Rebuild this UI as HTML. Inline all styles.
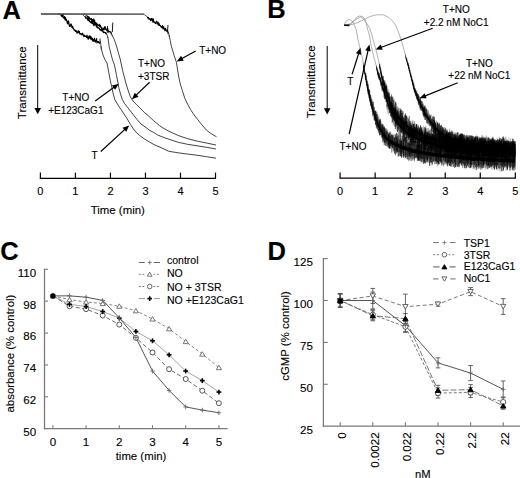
<!DOCTYPE html>
<html><head><meta charset="utf-8"><style>
html,body{margin:0;padding:0;background:#fff;}
svg{display:block;}
text{font-family:"Liberation Sans", sans-serif;stroke:#000;stroke-width:0.12px;}
</style></head><body>
<svg width="520" height="478" viewBox="0 0 520 478">
<rect width="520" height="478" fill="#fff"/>
<text x="2.4" y="19.2" font-size="25.5" text-anchor="start" font-weight="bold" fill="#000">A</text>
<text x="26.3" y="82.7" font-size="11.6" text-anchor="middle" font-weight="normal" fill="#000" transform="rotate(-90 26.3 82.7)">Transmittance</text>
<line x1="37.7" y1="45" x2="37.7" y2="109" stroke="#000" stroke-width="1"/>
<polygon points="34.4,108 41,108 37.7,114.2" fill="#000"/>
<line x1="39.8" y1="178.3" x2="216" y2="178.3" stroke="#000" stroke-width="1.3"/>
<line x1="40.4" y1="172.6" x2="40.4" y2="178.3" stroke="#000" stroke-width="1.2"/>
<text x="40.4" y="195.3" font-size="11" text-anchor="middle" font-weight="normal" fill="#000">0</text>
<line x1="75.42" y1="172.6" x2="75.42" y2="178.3" stroke="#000" stroke-width="1.2"/>
<text x="75.42" y="195.3" font-size="11" text-anchor="middle" font-weight="normal" fill="#000">1</text>
<line x1="110.44" y1="172.6" x2="110.44" y2="178.3" stroke="#000" stroke-width="1.2"/>
<text x="110.44" y="195.3" font-size="11" text-anchor="middle" font-weight="normal" fill="#000">2</text>
<line x1="145.46" y1="172.6" x2="145.46" y2="178.3" stroke="#000" stroke-width="1.2"/>
<text x="145.46" y="195.3" font-size="11" text-anchor="middle" font-weight="normal" fill="#000">3</text>
<line x1="180.48" y1="172.6" x2="180.48" y2="178.3" stroke="#000" stroke-width="1.2"/>
<text x="180.48" y="195.3" font-size="11" text-anchor="middle" font-weight="normal" fill="#000">4</text>
<line x1="215.5" y1="172.6" x2="215.5" y2="178.3" stroke="#000" stroke-width="1.2"/>
<text x="215.5" y="195.3" font-size="11" text-anchor="middle" font-weight="normal" fill="#000">5</text>
<text x="117.8" y="213.9" font-size="11.4" text-anchor="middle" font-weight="normal" fill="#000">Time (min)</text>
<polyline points="58,14 59.8,14.2 64.6,19.1 67.5,21.5 69.4,25.5 74.2,29.2 79,33 83.8,35.5 88.7,37.9 93.5,40.5 99.2,42.7 100.6,43 101.4,49.3 101.6,50.01" fill="none" stroke="#333" stroke-width="0.8" stroke-linejoin="round"/>
<polyline points="101,46.15 101.4,49.3 103,55 104.9,59.7 107,63 108.5,71 110,79 111.5,86 113.5,95 115,100 118,105 121,109.5 124,114 127,118.5 130.5,124.5 133.5,129 137,133.2 141,136.5 145,139.3 150,142.3 154,144.6 160,147.2 168.8,151.3 178.2,152.8 187.6,154.1 197,155.2 206.5,156.7 216,158.2" fill="none" stroke="#222" stroke-width="0.85" stroke-linejoin="round"/>
<polyline points="81.5,14 82.4,14.5 86.7,18.5 90,21.5 93.5,24.4 99.2,28.5 103,32 106.6,33.5 108,38" fill="none" stroke="#333" stroke-width="0.8" stroke-linejoin="round"/>
<polyline points="107.5,36.39 108,38 109.2,46.7 111,54 112.7,60.6 114.2,64 115.5,70 116.5,75.4 118,83 118.8,87.7 120.5,94 122.3,99.5 124.5,103.5 127.3,107 130,110.5 133.5,115 137,119.5 141,124 146.2,127.7 150,130.6 153.8,132.5 157.5,134.9 163,137.2 168.8,139.2 178.2,142.3 187.6,144.3 197,145.8 206.5,147.3 216,149" fill="none" stroke="#222" stroke-width="0.85" stroke-linejoin="round"/>
<polyline points="84,14 85,14.5 87.7,16.3 93.5,21.5 98.3,25.4 103,28.3 108.5,31 111,32.5 112,35 112.5,36" fill="none" stroke="#333" stroke-width="0.8" stroke-linejoin="round"/>
<polyline points="112,35 114.4,39.8 116.5,46 118,51.5 119.6,57 120.4,60 122.7,70.8 124.3,77 125.8,83 128,90 130.4,97 133,101 136.5,104.6 140,108 144.2,112.3 148,115.5 153.5,120.6 159.4,125.5 163,128 168.8,131.2 178.2,135.5 187.6,138.7 197,141.1 206.5,143 216,145" fill="none" stroke="#222" stroke-width="0.85" stroke-linejoin="round"/>
<polyline points="143,14 143.8,14.2 148,17.5 152.5,20.8 156,23.3 160.3,26 163,28 166.3,30.3 167.5,31.5 169,34.6 169.5,37.06" fill="none" stroke="#333" stroke-width="0.8" stroke-linejoin="round"/>
<polyline points="169,34.6 170.2,40.5 171.5,46.7 172.8,51 174.1,55.4 176.4,62.3 177.3,68 178.4,75 180.1,83.2 182.3,90.5 184.8,98.2 187.5,104 190.5,109.5 194,114.8 198,119.9 202,125 206.5,130.2 211,133.6 216.5,136.8" fill="none" stroke="#222" stroke-width="0.85" stroke-linejoin="round"/>
<polyline points="61,14.48 61.4,16.12 61.8,15.22 62.2,16.6 62.6,14.83 63,14.31 63.4,17.8 63.8,18.07 64.2,18.09 64.6,16.46 65,19.9 65.4,17.24 65.8,18.71 66.2,20.96 66.6,19.62 67,21.09 67.4,23.96 67.8,22.09 68.2,22.75 68.6,20.74 69,23.45 69.4,26.37 69.8,25.82 70.2,26.1 70.6,24.3 71,23.91 71.4,24.76 71.8,26.75 72.2,27.68 72.6,26.18 73,28.42 73.4,28.12 73.8,29.35 74.2,30.36 74.6,30.12 75,30.37 75.4,31.52 75.8,30.21 76.2,30.97 76.6,31.85 77,33.29 77.4,33.1 77.8,32.15 78.2,30.52 78.6,32.18 79,32.71 79.4,31.34 79.8,33.98 80.2,33.95 80.6,33.47 81,34.28 81.4,33.72 81.8,34.93 82.2,34.48 82.6,33.12 83,34.6 83.4,35.38 83.8,36.7 84.2,35.17 84.6,35.53 85,36.59 85.4,36.52 85.8,36.01 86.2,36.26 86.6,37.48 87,35.07 87.4,36.58 87.8,38.2 88.2,39.33 88.6,36.48 89,36.35 89.4,38.06 89.8,35.66 90.2,36.83 90.6,38.85 91,36.47 91.4,39.23 91.8,37.93 92.2,40.25 92.6,38.37 93,41.49 93.4,39.54 93.8,41.27 94.2,40.01 94.6,38.08 95,40.56 95.4,42.14 95.8,40.54 96.2,40.82 96.6,38.65 97,42.88 97.4,42.2 97.8,41.87 98.2,41.46 98.6,42.46 99,42.74 99.4,42.88 99.8,43.28 100.2,41.4" fill="none" stroke="#000" stroke-width="1.1" stroke-linejoin="round"/>
<polyline points="85,15.89 85.4,17.46 85.8,18.35 86.2,18.08 86.6,18.05 87,17.87 87.4,19.61 87.8,20.11 88.2,17.14 88.6,20.7 89,18.93 89.4,21.73 89.8,21.01 90.2,21.65 90.6,22.57 91,22.82 91.4,22.35 91.8,21.14 92.2,23.61 92.6,22.99 93,21.2 93.4,24.42 93.8,25.66 94.2,24.75 94.6,23.23 95,24.48 95.4,24.47 95.8,23.1 96.2,25.56 96.6,27 97,24.43 97.4,28 97.8,27.43 98.2,27.6 98.6,27.92 99,28.18 99.4,28.52 99.8,29.85 100.2,29.84 100.6,29.67 101,30.6 101.4,28.51 101.8,30.98 102.2,29.64 102.6,30.13 103,30.6 103.4,32.79 103.8,32.43 104.2,32.17 104.6,32.27 105,32.44 105.4,32.6 105.8,33.48 106.2,33.84 106.6,34.31" fill="none" stroke="#000" stroke-width="1.1" stroke-linejoin="round"/>
<polyline points="87,15.77 87.4,17.19 87.8,16.59 88.2,17.22 88.6,17.07 89,17.09 89.4,17.61 89.8,18.91 90.2,19.11 90.6,18.95 91,19.73 91.4,18.41 91.8,21.18 92.2,19.94 92.6,19.5 93,21.15 93.4,20.91 93.8,18.8 94.2,22.69 94.6,20.41 95,22.71 95.4,22.66 95.8,23.58 96.2,24.12 96.6,23.08 97,24.59 97.4,24.15 97.8,25.02 98.2,25.13 98.6,25.79 99,24.96 99.4,24.28 99.8,26.8 100.2,25.29 100.6,25.59 101,27.81 101.4,27.72 101.8,28.9 102.2,29.05 102.6,29.5 103,28.54 103.4,29.46 103.8,27.96 104.2,29.78 104.6,27.14 105,26.63 105.4,27.18 105.8,29.37 106.2,29.92 106.6,30.1 107,30.08 107.4,28.11 107.8,28.53 108.2,31.86 108.6,31.91 109,31.14 109.4,31.49 109.8,31.95 110.2,31.98 110.6,31.71 111,32.45 111.4,34.45" fill="none" stroke="#000" stroke-width="1.1" stroke-linejoin="round"/>
<polyline points="147,17.59 147.4,17.72 147.8,17.27 148.2,18.19 148.6,17.59 149,19.26 149.4,18.9 149.8,19.16 150.2,19.03 150.6,20.7 151,18.7 151.4,19.66 151.8,18.38 152.2,21.03 152.6,19.08 153,22.4 153.4,18.89 153.8,20.95 154.2,22.15 154.6,22.59 155,22.86 155.4,23.61 155.8,22.82 156.2,21.39 156.6,21.23 157,21.56 157.4,23.83 157.8,23.62 158.2,22.32 158.6,25.3 159,23.38 159.4,24.17 159.8,25.56 160.2,25.88 160.6,25.64 161,26.83 161.4,26.76 161.8,27.72 162.2,26.87 162.6,25.62 163,28.94 163.4,28.18 163.8,26.75 164.2,29.26 164.6,29.3 165,30.84 165.4,28.41 165.8,28.98 166.2,29.61 166.6,31.27 167,31.04 167.4,30.55 167.8,30.77 168.2,34.15" fill="none" stroke="#000" stroke-width="1.1" stroke-linejoin="round"/>
<line x1="100.2" y1="43" x2="100" y2="38.5" stroke="#000" stroke-width="0.9"/>
<line x1="107.2" y1="33" x2="107.6" y2="26" stroke="#000" stroke-width="0.9"/>
<line x1="112.3" y1="32" x2="112.8" y2="22.5" stroke="#000" stroke-width="0.9"/>
<line x1="167.5" y1="31" x2="168" y2="25" stroke="#000" stroke-width="0.9"/>
<line x1="40.9" y1="14" x2="143.8" y2="14.1" stroke="#3a3a3a" stroke-width="1.4"/>
<text x="138" y="67.2" font-size="10" text-anchor="start" font-weight="normal" fill="#000">T+NO</text>
<text x="138" y="79.7" font-size="10" text-anchor="start" font-weight="normal" fill="#000">+3TSR</text>
<text x="199.2" y="53.6" font-size="10" text-anchor="start" font-weight="normal" fill="#000">T+NO</text>
<text x="75.8" y="101.3" font-size="10" text-anchor="middle" font-weight="normal" fill="#000">T+NO</text>
<text x="75.8" y="113.6" font-size="10" text-anchor="middle" font-weight="normal" fill="#000">+E123CaG1</text>
<text x="91.5" y="159.2" font-size="10" text-anchor="start" font-weight="normal" fill="#000">T</text>
<line x1="95.2" y1="100.9" x2="114.35" y2="87.03" stroke="#000" stroke-width="1.2"/>
<polygon points="118.8,83.8 115.15,89.84 111.92,85.39" fill="#000"/>
<line x1="149.6" y1="82.3" x2="135.88" y2="95.4" stroke="#000" stroke-width="1.2"/>
<polygon points="131.9,99.2 134.7,92.72 138.5,96.7" fill="#000"/>
<line x1="195.7" y1="51" x2="181.52" y2="58.76" stroke="#000" stroke-width="1.2"/>
<polygon points="176.7,61.4 181.08,55.87 183.72,60.69" fill="#000"/>
<line x1="100.8" y1="151.5" x2="125.15" y2="129.12" stroke="#000" stroke-width="1.2"/>
<polygon points="129.2,125.4 126.27,131.82 122.55,127.77" fill="#000"/>
<text x="267.2" y="17.9" font-size="25.5" text-anchor="start" font-weight="bold" fill="#000">B</text>
<text x="315" y="81.8" font-size="11.6" text-anchor="middle" font-weight="normal" fill="#000" transform="rotate(-90 315 81.8)">Transmittance</text>
<line x1="327.2" y1="46" x2="327.2" y2="109" stroke="#000" stroke-width="1"/>
<polygon points="323.9,108.2 330.5,108.2 327.2,114.5" fill="#000"/>
<line x1="339.6" y1="178.2" x2="515.8" y2="178.2" stroke="#000" stroke-width="1.3"/>
<line x1="340.1" y1="172.6" x2="340.1" y2="178.2" stroke="#000" stroke-width="1.2"/>
<text x="340.1" y="195.3" font-size="11" text-anchor="middle" font-weight="normal" fill="#000">0</text>
<line x1="375.14" y1="172.6" x2="375.14" y2="178.2" stroke="#000" stroke-width="1.2"/>
<text x="375.14" y="195.3" font-size="11" text-anchor="middle" font-weight="normal" fill="#000">1</text>
<line x1="410.18" y1="172.6" x2="410.18" y2="178.2" stroke="#000" stroke-width="1.2"/>
<text x="410.18" y="195.3" font-size="11" text-anchor="middle" font-weight="normal" fill="#000">2</text>
<line x1="445.22" y1="172.6" x2="445.22" y2="178.2" stroke="#000" stroke-width="1.2"/>
<text x="445.22" y="195.3" font-size="11" text-anchor="middle" font-weight="normal" fill="#000">3</text>
<line x1="480.26" y1="172.6" x2="480.26" y2="178.2" stroke="#000" stroke-width="1.2"/>
<text x="480.26" y="195.3" font-size="11" text-anchor="middle" font-weight="normal" fill="#000">4</text>
<line x1="515.3" y1="172.6" x2="515.3" y2="178.2" stroke="#000" stroke-width="1.2"/>
<text x="515.3" y="195.3" font-size="11" text-anchor="middle" font-weight="normal" fill="#000">5</text>
<polyline points="344.2,25 345.5,22 347,20.2 348.8,19.6 350.5,19.9 352.5,21.5 355,26.5 356.3,30 358,40 360.5,50 362.8,60 363.6,66.6 365.5,75.7 368.6,91.4 370.5,100 372.3,107 374,113 376.5,120 379,126 382,131.5 386,137.5 392,142.5 400,146.5 410,150 425,153 445,156 470,158.5 495,160 515,161" fill="none" stroke="#888" stroke-width="0.65" stroke-linejoin="round"/>
<polyline points="344.2,25 350,24.5 353.5,21.2 356,18 359.2,16 362.7,16.5 365.6,20.5 367.3,28 369.6,36 371,45 373.5,55.8 375.1,61.4 378.2,73.9 379,75.7 384.3,91.4 388.5,105 393.8,116 400,126 410,135 425,142 445,147 470,150.5 495,152 515,153" fill="none" stroke="#888" stroke-width="0.65" stroke-linejoin="round"/>
<polyline points="344.2,25 350,24 354,21 357,18.8 360.4,17.1 362.7,18.3 366,22.3 369.6,28 371.9,35 373.8,42 376.2,50.9 378,58 381.4,73.9 381.7,75.7 386.4,91.4 390,102 394,110.5 400,119 410,128.5 425,136.5 445,142 470,145.5 495,147.5 515,148.5" fill="none" stroke="#888" stroke-width="0.65" stroke-linejoin="round"/>
<polyline points="344.2,25 352,24.5 358,22.3 365.6,18.8 370,16.5 376.5,14.8 383.5,14.8 389.2,17.7 393,21.5 395.5,25 398,31 401.3,40 403.5,48 405.5,55.7 408.6,66.2 411.7,78.7 414.4,89.2 417.3,96.5 420.8,104.5 423,109 426.2,115 430,121 435,127.5 440,132.5 450,138.5 465,142.5 480,145 500,147 515,148.5" fill="none" stroke="#888" stroke-width="0.65" stroke-linejoin="round"/>
<polygon points="363,61.58 363.5,65.63 364,68.35 364.5,70.67 365,73.04 365.5,75.45 366,77.79 366.5,80.38 367,82.92 367.5,85.16 368,87.83 368.5,90.41 369,92.65 369.5,94.55 370,96.75 370.5,99.13 371,101.32 371.5,103.05 372,104.66 372.5,106.89 373,108.46 373.5,109.99 374,111.79 374.5,113.34 375,114.65 375.5,115.66 376,117.44 376.5,119.07 377,120.16 377.5,120.75 378,122.14 378.5,123.9 379,124.93 379.5,125.21 380,126.52 380.5,127.2 381,128.64 381.5,129.61 382,130.35 382.5,130.51 383,131.83 383.5,132.59 384,132.61 384.5,133.5 385,134.83 385.5,135.51 386,135.46 386.5,136.65 387,136.88 387.5,136.72 388,137.99 388.5,138.12 389,138.9 389.5,139.17 390,138.81 390.5,139.81 391,139.83 391.5,140.31 392,140.35 392.5,140.71 393,141.71 393.5,141.02 394,141.46 394.5,142.36 395,142.46 395.5,142.22 396,142.4 396.5,142.42 397,142.94 397.5,143.94 398,144.09 398.5,143.41 399,143.48 399.5,144.66 400,144.78 400.5,144.37 401,144.61 401.5,144.54 402,144.77 402.5,145.83 403,145.25 403.5,146.05 404,146.05 404.5,145.55 405,145.85 405.5,146.29 406,146.04 406.5,146.6 407,147.52 407.5,147.78 408,146.98 408.5,147.3 409,147.64 409.5,148.2 410,147.55 410.5,148.25 411,148.43 411.5,147.77 412,148.39 412.5,149.09 413,149.28 413.5,148.33 414,149.01 414.5,149.19 415,149.3 415.5,149.12 416,149.81 416.5,148.77 417,149.81 417.5,149.83 418,150.26 418.5,150.39 419,149.93 419.5,150.05 420,150.27 420.5,150.56 421,149.9 421.5,150.32 422,150.71 422.5,151.11 423,150.5 423.5,151.23 424,151.41 424.5,150.77 425,150.58 425.5,151.75 426,151.66 426.5,151.88 427,151.22 427.5,151.54 428,152.04 428.5,151.88 429,151.58 429.5,151.91 430,151.77 430.5,151.27 431,152.07 431.5,152.44 432,152.37 432.5,152.34 433,152.48 433.5,152.93 434,152.86 434.5,153.08 435,153 435.5,153.16 436,152.16 436.5,153.06 437,153.15 437.5,152.88 438,152.82 438.5,153.48 439,153.4 439.5,153.8 440,153.05 440.5,152.83 441,153.84 441.5,154.15 442,154.05 442.5,154.14 443,153.47 443.5,154.32 444,153.5 444.5,153.41 445,153.52 445.5,154.18 446,154.27 446.5,154.02 447,153.8 447.5,154.25 448,154.25 448.5,154.17 449,154.77 449.5,154.32 450,154.48 450.5,154.76 451,154.75 451.5,154.94 452,154.4 452.5,154.68 453,155.18 453.5,155.55 454,154.95 454.5,155.36 455,155.58 455.5,154.89 456,155.4 456.5,155.37 457,155.11 457.5,155.64 458,155.28 458.5,155.74 459,155.04 459.5,155.02 460,155.07 460.5,155.24 461,156.14 461.5,155.13 462,156.35 462.5,156.46 463,155.39 463.5,156.49 464,156.43 464.5,155.55 465,156.06 465.5,155.62 466,156.17 466.5,156.1 467,156.43 467.5,156.51 468,156.06 468.5,156.53 469,157.14 469.5,157.02 470,156.13 470.5,156.63 471,157.03 471.5,156.5 472,156.96 472.5,157.36 473,156.79 473.5,156.53 474,156.54 474.5,157.16 475,157.13 475.5,157.12 476,157.02 476.5,156.77 477,157.27 477.5,157.26 478,156.91 478.5,156.61 479,157.07 479.5,156.99 480,157.05 480.5,157.62 481,157.05 481.5,157.12 482,157.7 482.5,157.93 483,157.98 483.5,157.17 484,157.49 484.5,157.51 485,157.93 485.5,157.94 486,158.03 486.5,158.24 487,158.29 487.5,157.78 488,157.32 488.5,157.96 489,158.03 489.5,158.36 490,157.88 490.5,157.39 491,157.99 491.5,158.01 492,157.46 492.5,158.11 493,158.17 493.5,157.93 494,158.34 494.5,157.69 495,158.78 495.5,158.61 496,158.68 496.5,158.35 497,157.82 497.5,158.12 498,158.3 498.5,158.73 499,158.32 499.5,159 500,158.46 500.5,158.1 501,159.07 501.5,159.04 502,158.21 502.5,159.02 503,158.96 503.5,158.81 504,158.57 504.5,158.25 505,159.19 505.5,159.13 506,158.66 506.5,158.4 507,159.4 507.5,159.24 508,158.48 508.5,159.33 509,159.14 509.5,159.16 510,159.01 510.5,158.86 511,159.24 511.5,159.51 512,159.08 512.5,159.59 513,159.38 513.5,158.74 514,159.47 514.5,159.72 515,158.87 515,162.88 514.5,162.66 514,162.81 513.5,163.2 513,163.04 512.5,162.31 512,162.91 511.5,162.36 511,162.14 510.5,162.56 510,162.23 509.5,162.78 509,162.3 508.5,162.96 508,162.5 507.5,162.64 507,162.37 506.5,161.88 506,162.34 505.5,161.93 505,162.08 504.5,162.14 504,161.87 503.5,162.61 503,162.37 502.5,162.45 502,162.09 501.5,161.6 501,162.17 500.5,162.29 500,161.62 499.5,162.24 499,162.17 498.5,162.33 498,161.47 497.5,161.73 497,161.47 496.5,161.57 496,161.62 495.5,161.28 495,161.36 494.5,162.15 494,162.05 493.5,161.95 493,162.26 492.5,162.24 492,161.78 491.5,161.44 491,161.3 490.5,161.05 490,161.98 489.5,161.66 489,161.12 488.5,161.99 488,161.24 487.5,161.99 487,161.56 486.5,161.67 486,161.05 485.5,161.35 485,161.84 484.5,161.31 484,161.39 483.5,161.14 483,161.6 482.5,161.46 482,161.28 481.5,161.11 481,160.94 480.5,160.5 480,161.34 479.5,160.34 479,160.38 478.5,161 478,160.71 477.5,160.99 477,160.7 476.5,160.19 476,160.77 475.5,161.21 475,160.37 474.5,160.46 474,161.02 473.5,161.03 473,160.77 472.5,160.91 472,160.47 471.5,159.97 471,161.03 470.5,160.84 470,160.19 469.5,159.79 469,159.78 468.5,160.83 468,160.52 467.5,160.35 467,160.29 466.5,160.02 466,160.58 465.5,160.3 465,159.67 464.5,159.34 464,160.35 463.5,160.15 463,159.72 462.5,159.98 462,159.32 461.5,159.48 461,159.64 460.5,159.06 460,158.95 459.5,158.88 459,159.87 458.5,159.13 458,158.91 457.5,158.66 457,158.63 456.5,159.44 456,158.61 455.5,158.78 455,158.43 454.5,159.18 454,158.5 453.5,158.77 453,158.47 452.5,159.13 452,158.71 451.5,158.74 451,158.83 450.5,157.95 450,159.01 449.5,158.09 449,158.91 448.5,158.5 448,157.78 447.5,157.72 447,158.12 446.5,157.77 446,158.02 445.5,157.88 445,158.41 444.5,157.84 444,157.28 443.5,158.25 443,157.52 442.5,157.8 442,157.5 441.5,156.92 441,157.28 440.5,156.88 440,157.8 439.5,156.8 439,157.61 438.5,157.67 438,156.97 437.5,157.33 437,156.79 436.5,157.27 436,156.98 435.5,156.73 435,155.97 434.5,155.89 434,156.96 433.5,156.58 433,156.76 432.5,156.28 432,156.21 431.5,155.83 431,156.35 430.5,155.68 430,155.73 429.5,155.86 429,155.4 428.5,155.15 428,155.86 427.5,155.6 427,155.3 426.5,155.64 426,154.76 425.5,155.61 425,154.78 424.5,154.9 424,154.97 423.5,154.36 423,154.17 422.5,154.7 422,153.95 421.5,154.73 421,154.72 420.5,154.28 420,154.35 419.5,153.65 419,154.09 418.5,153.89 418,154.02 417.5,153.77 417,154 416.5,152.91 416,153.86 415.5,153.53 415,153.34 414.5,153.22 414,152.82 413.5,153.29 413,152.84 412.5,152.7 412,153.01 411.5,152.31 411,152.62 410.5,152.52 410,152.44 409.5,151.77 409,152.16 408.5,151.22 408,152.05 407.5,150.67 407,151.28 406.5,150.58 406,150.62 405.5,150.81 405,150.46 404.5,149.79 404,149.67 403.5,150.29 403,149.54 402.5,149.24 402,149.96 401.5,149.3 401,148.89 400.5,148.4 400,148.92 399.5,147.96 399,147.59 398.5,147.44 398,147.45 397.5,147.55 397,146.86 396.5,147.24 396,146 395.5,146.64 395,146.16 394.5,146.34 394,144.99 393.5,144.73 393,145.09 392.5,144.98 392,144.37 391.5,143.91 391,143.91 390.5,143.85 390,143.2 389.5,142.36 389,142.28 388.5,141.28 388,141.3 387.5,140.43 387,140.45 386.5,140.13 386,139.33 385.5,139 385,138.42 384.5,137.98 384,136.48 383.5,136.43 383,135.17 382.5,134.83 382,133.24 381.5,132.66 381,132.29 380.5,131.21 380,130.43 379.5,128.96 379,128.14 378.5,127.33 378,126.26 377.5,124.91 377,123.55 376.5,122.2 376,121.36 375.5,120.05 375,118.17 374.5,116.87 374,115.59 373.5,113.84 373,112.3 372.5,110.58 372,108.82 371.5,106.97 371,104.52 370.5,102.84 370,100.77 369.5,98.45 369,96.1 368.5,93.65 368,91.65 367.5,88.79 367,86.33 366.5,83.58 366,81.05 365.5,78.65 365,75.98 364.5,73.46 364,71.1 363.5,68.65 363,65.88" fill="#000"/>
<path d="M363.75 65.32V69.04M364.75 70.42V74.34M365 72.33V76.72M370 95.69V103.19M371 100.01V106.89M372 99.98V110.17M373.5 106.16V116.25M373.75 107.75V119.3M374 106.29V121.35M375 110.83V122.12M376 110.25V128.42M377 114.98V128.13M379.75 118.06V131.62M380.5 124.82V133.34M384.75 128.37V144.55M387 129.96V146.92M387.25 131.61V144.29M391.5 134.19V152M392.75 133.46V149.8M393.5 133.85V152.56M394 135.11V151.16M396.25 135.6V149.45M397 140.35V150.85M398.75 134.5V152.78M399 135.64V154.92M400 139.61V155.66M401.75 140.82V155.89M403 137.41V154.42M404.25 134.84V156.76M404.75 140.61V155.29M405 143.66V158.66M406.25 139.39V157.82M407.25 139.54V158.54M408.25 143.6V158.74M411 140.13V156.38M413.25 142.42V160.68M413.75 139.38V160.13M415 146.04V158.33M415.5 138.58V157.8M416.5 143.46V158.1M420.5 144.68V161.34M422 141.57V158.76M422.5 146.09V159.76M423 143.73V162.26M424 142.71V160.4M425.5 143.85V158.25M428.25 142.15V162.6M428.75 146.51V158.78M429.25 145.97V165.19M432.25 146.77V163.28M433 146.55V162.86M433.25 149.7V158.54M434 147.54V161.38M434.25 145.88V161.2M437 145.58V162.73M442.25 146.24V163.9M442.5 147.17V164.15M442.75 144.44V164.69M443.25 146.48V161.42M444 146.35V161.6M444.25 148.07V164.49M446.5 146.46V165.71M449.75 144.87V165.94M453.5 145.59V166M455.25 150.06V163.59M456.25 144.65V166.4M456.5 146.64V167.4M456.75 146.93V163.48M457.5 150.47V163.15M458 147.06V166.21M459 149.35V168.73M459.75 147.88V163.46M462.75 152.43V166.24M463.75 149.89V165.8M464.5 147.83V167.58M465.25 151.61V167.62M465.75 148.13V164.34M468.25 152.58V166.89M469.5 148.11V164.19M470 151.64V164.79M471.75 150.6V166.88M472.5 153.92V164.47M472.75 147.48V166.38M473.5 153.46V167.55M474.75 152V169.89M475 146.83V168.17M475.25 148.23V163.66M475.75 152.26V167.27M476 150.66V168.31M477 152.56V169.21M479.5 148.56V165.1M480 151.55V169.11M481.75 151.56V165.92M482.25 148.77V169.96M482.5 152.93V165.46M484.25 154.1V165.15M484.75 151.61V167.5M485 153.23V167.38M485.25 153.56V170.26M485.5 149.55V168.64M486.25 153.07V168.66M486.75 153.88V167.95M491.75 150.19V166.85M493 149.71V165.35M495.25 150.99V166.7M497.25 149.12V169.13M498 152.47V165.28M499 148.81V170.65M499.25 148.78V171.23M499.75 151.44V167.1M501.25 154.55V165.13M502.25 150.84V166.99M503.75 151.77V168.19M505.5 154.61V168.22M505.75 148.78V170.84M506.5 151.77V165.7M508.5 150.74V165.41M509 152.91V167.81M509.5 152.48V171.36M510.25 155.92V167.45M511.25 153.75V167.34M512.75 154.24V169.58M514.5 149.53V171.25" stroke="#000" stroke-width="0.7" fill="none" opacity="0.25"/>
<path d="M364 68.07V71.74M364.5 70.16V74.11M365.25 72.2V77.13M366 75.5V83.12M367 81.06V87.93M367.75 83.52V91.17M368.25 85.26V94.11M368.5 86.9V96.66M369 88.98V98.45M369.5 90.4V102.08M370.25 94.28V102.48M370.75 95.46V106.2M371.25 97.15V106.42M371.5 98.64V109M372.25 101.39V112.38M372.5 104.1V111.98M373 104.36V114.16M374.5 110.63V118.8M376.25 114.02V124.47M377.25 115.78V127.11M377.5 117.56V130.23M378 117.33V130.06M378.25 119.23V132.63M378.5 120.78V132.32M378.75 116.22V133.39M381.25 123.05V137.6M381.5 125.61V135.44M381.75 123.46V136.57M382 125.71V138.45M383 124.33V139.72M383.25 125.2V140.73M383.75 126.32V142.56M384 126.85V140.77M385 128.5V142.58M385.5 133.15V145.28M385.75 128.9V145.97M386.5 129.77V143.49M386.75 128.42V142.45M387.5 130.2V147.1M387.75 132.8V144.22M389.25 133.4V147.95M390 131.03V149M390.25 136.07V149.31M390.5 135.35V145.61M391 136.21V147.31M391.75 134.68V152.99M392.25 134.87V147.69M393 136.4V151.34M393.75 134.62V150.3M394.25 137.48V147.96M394.75 136.9V150.92M395 133.84V152.43M395.25 136.8V154.39M395.5 134.26V155.73M395.75 134.7V150.57M398 134.74V156.55M398.25 136.76V156.87M398.5 139.11V156.07M399.5 139.02V155.66M399.75 141.16V156.51M400.75 137.97V156.35M402.25 136.16V156.81M402.5 138.23V152.37M402.75 141.89V153.98M404 137.32V157.4M404.5 137.01V155.84M405.25 138.7V157.45M405.75 139.98V154.37M406.5 136.87V156.63M406.75 139.87V159.05M407 137.31V155.04M407.5 139.39V159.23M408.5 142.13V154.38M408.75 143.35V161.3M409.75 142.27V157.1M410.5 138.85V159.27M410.75 138.01V161.16M411.5 140.27V160.88M411.75 140.95V156.67M412.25 142.83V156M412.5 137.61V160.66M412.75 143.44V155.96M413 144.64V156.91M413.5 140.72V158.86M414 141.29V156.24M414.5 140.85V161.62M414.75 140.84V159.09M415.75 140.66V157.68M416 141.05V157.9M417.25 145.42V160.59M419.5 141.48V156.97M419.75 145.83V160.91M421 143.65V163.33M421.25 146.47V159.21M423.25 140.09V160.96M424.5 146.58V162.22M425 143.92V163.32M425.75 145.62V158.21M426.25 147.24V160.52M426.5 146.96V159.43M426.75 142.62V162.07M427 147.42V159.59M427.75 146.84V159.64M429 143.99V162.46M429.5 140.85V165.56M430 142.72V159.98M430.25 142.93V158.75M430.75 143.37V162.1M431 146.41V160.23M431.5 146.41V159.53M431.75 149.57V162.74M432.5 144.68V164.18M432.75 149.49V160.81M433.75 143.84V161.05M434.5 149.32V159.96M434.75 146.63V163.95M435 148V164.35M435.5 149.78V161.19M435.75 143.91V160.41M436.75 141.75V163.94M437.25 144.27V163.31M437.75 148.03V166.52M438 147.37V164.87M439 144.28V164.53M439.25 143.93V161.99M439.5 147.05V160.85M440 149.48V160.41M440.75 143.72V160.78M441.25 143.79V163.2M441.5 146.02V161.95M442 146.41V162.05M443 144.71V165.09M443.5 147.42V166.49M444.5 145.49V164.47M444.75 148.71V161.82M445 150.78V161.25M445.5 149.4V163.82M446 149.52V164.63M446.75 148.37V163.34M447 149.43V162.94M447.25 144.11V164M447.75 146.28V163.44M448.5 146.12V163.26M449.5 146.02V165.91M450.25 146.35V164.03M450.5 150.52V163.23M451.25 150.85V160.79M451.75 145.49V164.52M452 147.59V166.64M452.25 150.06V163.87M452.5 148.45V163.61M453 147.98V165.02M453.25 149V167.06M453.75 143.68V167.17M454 147.83V161.65M454.25 151.15V162.93M455.75 151.38V164.77M457 149.77V166.26M457.25 148.55V166.36M458.25 150.28V165.54M458.5 151.1V166.11M458.75 147.68V167.13M460.25 150.2V162M461 150.14V165.6M461.25 149.2V163.39M461.75 149.52V163.78M462.5 146V168.21M463 149.1V163.2M463.25 145.72V165.28M464 149.24V163.36M466 150.11V168.53M466.25 151.83V162.6M466.5 149.79V168.07M467.25 152.04V163.94M468.5 150.57V163.77M469 151.83V163.79M469.25 151.4V165.02M470.25 153V167.16M471.25 150.57V167.4M472 148.08V165.13M472.25 150.14V165.03M473 148.55V169.24M473.25 153.45V163.92M473.75 152.89V166.99M474.25 147.23V163.81M476.5 152.26V168.39M476.75 147.71V166.4M477.25 150.38V166.47M477.5 153.71V163.03M477.75 152.65V168.57M478.75 149.31V168.93M479.25 150.7V167.07M480.25 153.84V166.15M480.5 149.02V170.15M480.75 153.14V167.59M481.25 150.51V167.8M481.5 150.4V169.16M484 148.75V165.44M486 151.82V165.96M487 148.42V167.13M487.5 152.65V165.87M487.75 147.78V165.29M488 148.38V164.95M489 152.66V164.9M489.5 154.02V167.74M489.75 154.58V167.78M490 151.54V165.83M490.75 147.93V167.05M491 151.07V168.54M491.25 154.99V164.9M492 149.44V169.99M492.75 154.32V165M493.25 150.85V168.07M493.5 151.28V165.24M493.75 154.12V168.23M494.75 151.7V164.7M495.75 153.2V166.22M496 149.93V167.74M496.25 155.58V169.45M497 151.27V170.17M497.75 153.24V166.04M498.25 153.79V168.55M498.5 150.05V164.31M499.5 151.89V168.95M500 154.97V168.49M500.25 152.65V165.27M500.5 151.05V168.12M500.75 152.3V164.64M501 148.71V171.36M502 149.93V171.75M502.75 151.38V165.43M503 154.97V168.91M503.25 148.62V170.21M504.25 153.1V166.26M504.75 156V165.97M505.25 152.89V166.04M507.25 151.65V169.1M507.75 149.44V168.1M508 149.13V166.41M508.25 156.3V166.04M508.75 155.1V164.67M510.75 156.85V167.27M511 150.63V170.35M511.5 154.75V165.19M511.75 149.7V166.85M512 152.25V165.88M513 154.14V170.88M513.25 152.32V170.69M513.75 152.42V165.27M514 151.49V168.3M514.25 153.35V166.99M515.25 155.21V166" stroke="#000" stroke-width="0.7" fill="none" opacity="0.5"/>
<path d="M363.5 65.31V69.14M364.25 67.49V71.69M365.5 73.29V80.14M365.75 73.19V79.13M366.25 75.47V82.28M366.5 79.27V85.85M366.75 79.61V84.5M367.25 80.78V88.56M367.5 84.36V91.51M368 83.85V93.86M368.75 89.32V95.08M369.25 89.35V98.04M369.75 90.63V101.05M370.5 94.88V105.42M371.75 99.19V109.27M372.75 101.55V116.35M373.25 101.98V115M374.25 107.04V119.83M374.75 110.45V120.71M375.25 112.75V120.52M375.5 110.73V125.1M375.75 111.01V124.01M376.5 114.36V126.71M376.75 111.93V128.51M377.75 113.9V128.58M379 122.28V131.03M379.25 120.27V130.01M379.5 120.1V135.43M380 118.89V134.61M380.25 119.26V135.16M380.75 120.61V132.69M381 124.79V134.88M382.25 127.68V137.3M382.5 124.02V137.99M382.75 124.62V142.3M383.5 127.68V139.4M384.25 126.55V145.25M384.5 127.49V142.9M385.25 128.38V141.41M386 131V142.36M386.25 132.02V146.08M388 131.91V145.2M388.25 134.24V146.7M388.5 134.26V144.81M388.75 134.85V148.2M389 132.22V146.5M389.5 133.13V148.67M389.75 136.03V148.1M390.75 132.32V145.91M391.25 134.65V146.16M392 134.75V147.17M392.5 135.42V147.68M393.25 137.25V148.87M394.5 138.12V153.58M396 136.8V154.04M396.5 132.69V152.61M396.75 137.78V151.38M397.25 136.12V149.72M397.5 140.27V152.27M397.75 133.75V152.21M399.25 135.35V152.07M400.25 140.52V152.58M400.5 133.8V156.12M401 141.49V153.73M401.25 139.57V156.57M401.5 140.53V157.77M402 135.58V152.54M403.25 138.35V157.86M403.5 137.58V155.89M403.75 140.13V156.76M405.5 136.52V158.25M406 137.92V156.66M407.75 142.26V156.97M408 143.72V159.79M409 140.98V155.8M409.25 143.16V160.2M409.5 142.63V155.37M410 143.55V157.36M410.25 143.97V156.79M411.25 139.15V154.65M412 144.1V158.88M414.25 144.31V159.43M415.25 141.1V157.75M416.25 144.94V156.89M416.75 146.61V156.31M417 140.99V158.48M417.5 145.12V157.89M417.75 145.8V161.11M418 144.99V157.91M418.25 145.68V159.38M418.5 143.8V160.46M418.75 142.93V160.28M419 144.14V160.82M419.25 145.28V160.4M420 144.3V158.37M420.25 145.48V161.09M420.75 143.73V158.56M421.5 144.18V161.82M421.75 142.36V158.78M422.25 146.64V158.95M422.75 143.28V162.49M423.5 141.65V163.95M423.75 147.45V158.16M424.25 145.99V162.92M424.75 144.41V162.39M425.25 148.19V163.72M426 144.42V162.4M427.25 148.11V162.66M427.5 147.47V160.43M428 146.54V161.52M428.5 144.9V158.34M429.75 144.78V165.94M430.5 142.92V162.7M431.25 141.59V162.7M432 143.46V165.2M433.5 146.85V161.87M435.25 141.2V161.25M436 143.06V161.68M436.25 149.54V163.93M436.5 146.42V161.26M437.5 147.93V161.88M438.25 150.62V163.51M438.5 146.14V164.1M438.75 149.93V159.43M439.75 146.53V164.16M440.25 149.43V161.28M440.5 142.61V162.26M441 145.7V162.55M441.75 148.37V165.59M443.75 151.06V160.39M445.25 147.74V162.19M445.75 147.48V161.11M446.25 149.91V162.84M447.5 149.84V166.41M448 144.7V165.38M448.25 144.18V162.68M448.75 146.66V161.89M449 148.2V162.67M449.25 144.25V165.48M450 150.51V165.97M450.75 143.88V166.14M451 146.04V166.91M451.5 149.35V162.01M452.75 145.01V163.02M454.5 152.06V162.08M454.75 147.2V168.04M455 147.62V166.54M455.5 151.4V167.11M456 148.34V164.66M457.75 147.49V167.05M459.25 150.51V166.66M459.5 149.46V164.3M460 147.2V162.33M460.5 150.93V163.16M460.75 145.38V163.73M461.5 152.21V165.72M462 149.14V164.18M462.25 146.51V162.32M463.5 149.13V164.15M464.25 145.31V167.75M464.75 150.3V165.62M465 149.69V168.41M465.5 148.16V165.53M466.75 148.3V167.92M467 148.75V162.54M467.5 151.18V165.2M467.75 147.39V166.23M468 149.28V162.7M468.75 150.94V167.46M469.75 151.55V168.15M470.5 148.18V168.21M470.75 153.43V164.31M471 150.61V167.54M471.5 147.09V165.06M474 152.17V168.48M474.5 152.38V165.08M475.5 148.23V166.79M476.25 150.3V170.13M478 152.26V166.58M478.25 148.76V166.31M478.5 148.02V164.99M479 148.93V168.25M479.75 153.2V165.79M481 155.4V164.08M482 154.3V168.23M482.75 147.01V168.22M483 147.17V165.19M483.25 147.94V166.86M483.5 151.57V164.85M483.75 150.92V167.93M484.5 151.99V164.05M485.75 149.34V164.15M486.5 151.31V165.35M487.25 151.32V169.29M488.25 151.42V168.57M488.5 152.64V165.89M488.75 149.78V166.39M489.25 152.79V168.04M490.25 149.6V164.96M490.5 151.25V166.75M491.5 153.55V166.83M492.25 151.75V164.83M492.5 152.91V166.35M494 148.48V165.47M494.25 154.37V169.22M494.5 148.71V169.66M495 150.66V167.16M495.5 151.23V165.23M496.5 151.02V169.02M496.75 153.23V167.18M497.5 152.04V165.15M498.75 153.09V168.14M501.5 154.75V166.07M501.75 149.67V170.98M502.5 150.23V166.92M503.5 150.63V170.69M504 155.41V164.62M504.5 151.4V167.57M505 154.16V166.21M506 148.96V167.12M506.25 155.28V164.49M506.75 150.22V167.19M507 149.83V170.29M507.5 156.61V169.59M509.25 149.55V167.56M509.75 156.12V165.65M510 152.67V170.31M510.5 155.52V167.79M512.25 148.69V167.48M512.5 151.87V169.75M513.5 152.72V168.57M514.75 154.88V167.57M515 152.49V169.86" stroke="#000" stroke-width="0.7" fill="none" opacity="0.85"/>
<polygon points="376,64.87 376.5,66.94 377,68.9 377.5,70.91 378,72.78 378.5,74.39 379,75.44 379.5,76.94 380,78.38 380.5,79.71 381,81.3 381.5,82.72 382,84.2 382.5,85.46 383,87.17 383.5,88.28 384,89.75 384.5,91.46 385,92.96 385.5,94.47 386,96.36 386.5,97.74 387,99.46 387.5,100.75 388,102.33 388.5,104.27 389,105.4 389.5,106.21 390,107.12 390.5,108.42 391,109.01 391.5,110.44 392,111.48 392.5,112.63 393,113.35 393.5,114.24 394,115.17 394.5,116.07 395,116.84 395.5,117.98 396,118.68 396.5,119.31 397,120.17 397.5,120.69 398,122 398.5,122.34 399,122.95 399.5,124.33 400,124.91 400.5,125.09 401,125.73 401.5,125.82 402,126.7 402.5,126.78 403,127.25 403.5,127.8 404,128.54 404.5,128.43 405,129.58 405.5,129.38 406,130.48 406.5,130.93 407,130.59 407.5,131.49 408,132.28 408.5,132.21 409,132.44 409.5,132.81 410,133.44 410.5,133.67 411,133.86 411.5,134.41 412,134.62 412.5,134.9 413,135.41 413.5,135.31 414,135.37 414.5,135.39 415,135.54 415.5,136.53 416,136.73 416.5,136.89 417,136.86 417.5,137.01 418,137.28 418.5,137.46 419,137.61 419.5,137.59 420,138.49 420.5,138.6 421,139.19 421.5,139.02 422,139.33 422.5,139.86 423,139.58 423.5,139.69 424,140.29 424.5,140.32 425,140.46 425.5,140.33 426,140.7 426.5,140.82 427,141.32 427.5,141.37 428,140.95 428.5,141.73 429,141.29 429.5,141.3 430,141.67 430.5,141.88 431,141.65 431.5,141.74 432,142.45 432.5,142.18 433,142.29 433.5,142.44 434,142.64 434.5,142.99 435,142.91 435.5,143.37 436,143.66 436.5,143.67 437,144.01 437.5,143.9 438,143.65 438.5,144.36 439,143.88 439.5,143.75 440,144.08 440.5,144.72 441,144.73 441.5,144.7 442,144.32 442.5,144.98 443,145.29 443.5,144.66 444,145.58 444.5,145.4 445,145.28 445.5,145.42 446,146.09 446.5,145.75 447,145.58 447.5,146.26 448,145.96 448.5,145.66 449,146.05 449.5,146.47 450,146.33 450.5,145.79 451,145.84 451.5,146.01 452,146.97 452.5,146.27 453,146.94 453.5,146.28 454,146.57 454.5,146.49 455,146.8 455.5,147.28 456,146.58 456.5,147.32 457,147 457.5,147.48 458,147.04 458.5,147.66 459,147.51 459.5,147.15 460,147.92 460.5,147.95 461,147.45 461.5,147.67 462,147.43 462.5,148.45 463,147.97 463.5,148.39 464,148.38 464.5,148.04 465,148.59 465.5,147.99 466,148.94 466.5,149.01 467,148.56 467.5,148.67 468,148.77 468.5,148.71 469,149.01 469.5,149.3 470,148.67 470.5,149.4 471,149.19 471.5,149.15 472,149.49 472.5,149.15 473,149 473.5,148.85 474,148.87 474.5,149.21 475,149.46 475.5,149.72 476,149.74 476.5,149.72 477,148.94 477.5,149.39 478,149.77 478.5,149.26 479,149.28 479.5,150.03 480,149.11 480.5,149.93 481,150.08 481.5,149.37 482,150.01 482.5,149.78 483,149.49 483.5,149.38 484,149.42 484.5,149.5 485,150.3 485.5,150.13 486,150.4 486.5,150.4 487,150.14 487.5,150.43 488,149.97 488.5,149.85 489,150.61 489.5,149.8 490,149.79 490.5,149.88 491,150.32 491.5,150.06 492,150.47 492.5,149.89 493,150.44 493.5,150.61 494,150.72 494.5,150.57 495,150.52 495.5,150.62 496,150.33 496.5,150.32 497,150.17 497.5,150.16 498,150.31 498.5,150.48 499,151.09 499.5,150.54 500,150.89 500.5,150.84 501,150.85 501.5,150.87 502,150.47 502.5,151.23 503,151.38 503.5,150.78 504,151.09 504.5,150.54 505,151.37 505.5,151.43 506,150.61 506.5,150.85 507,151.55 507.5,151.38 508,150.79 508.5,151.29 509,151.16 509.5,150.75 510,150.76 510.5,151.64 511,151.72 511.5,151.3 512,150.99 512.5,151.79 513,151.27 513.5,151.57 514,151.27 514.5,151.05 515,151.07 515,154.27 514.5,154.04 514,154.45 513.5,154.56 513,154.57 512.5,154.78 512,154.32 511.5,154.27 511,153.85 510.5,154.75 510,154.4 509.5,154.72 509,153.83 508.5,153.73 508,153.87 507.5,154.4 507,154.01 506.5,154.17 506,154.08 505.5,154.46 505,154.29 504.5,154.13 504,153.85 503.5,153.96 503,154.33 502.5,154.13 502,153.99 501.5,153.85 501,153.52 500.5,153.76 500,153.48 499.5,153.4 499,153.59 498.5,153.49 498,153.87 497.5,153.8 497,153.55 496.5,153.65 496,153.18 495.5,154.04 495,153.46 494.5,153.87 494,153.21 493.5,153.38 493,153.23 492.5,153.4 492,153.77 491.5,152.88 491,153.08 490.5,152.79 490,153.31 489.5,152.94 489,152.74 488.5,153.07 488,152.68 487.5,152.93 487,153.24 486.5,153.45 486,153.45 485.5,152.58 485,153.25 484.5,152.73 484,153.12 483.5,152.61 483,153.04 482.5,152.54 482,153.11 481.5,153.14 481,152.83 480.5,152.75 480,152.45 479.5,152.43 479,152.36 478.5,152.14 478,152.34 477.5,152.21 477,152.37 476.5,152.21 476,152.81 475.5,151.89 475,152.23 474.5,152.56 474,152.27 473.5,151.9 473,152.14 472.5,151.79 472,152.24 471.5,152.02 471,151.86 470.5,152.4 470,151.79 469.5,151.58 469,152.32 468.5,151.9 468,151.57 467.5,151.49 467,151.32 466.5,151.87 466,151.44 465.5,151.56 465,151.77 464.5,151.09 464,150.87 463.5,150.75 463,151.24 462.5,151.11 462,150.87 461.5,150.58 461,150.4 460.5,150.75 460,150.32 459.5,150.97 459,150.05 458.5,150.82 458,150.23 457.5,150.81 457,150.59 456.5,149.97 456,150.39 455.5,149.61 455,149.85 454.5,149.85 454,149.44 453.5,150.01 453,149.71 452.5,149.72 452,149.71 451.5,149.87 451,149.25 450.5,149.11 450,149.32 449.5,149.31 449,149.13 448.5,149.31 448,149.11 447.5,148.74 447,149 446.5,148.52 446,148.76 445.5,148.82 445,148.96 444.5,148.85 444,147.99 443.5,148.04 443,148.44 442.5,147.82 442,147.65 441.5,147.46 441,147.24 440.5,147.54 440,147.34 439.5,147.28 439,147.56 438.5,146.67 438,147.34 437.5,146.7 437,147.04 436.5,146.36 436,146.11 435.5,146.69 435,145.99 434.5,146.05 434,145.38 433.5,145.35 433,145.71 432.5,145.82 432,144.88 431.5,144.78 431,144.71 430.5,144.6 430,144.49 429.5,145.17 429,144.74 428.5,144.21 428,144.45 427.5,143.77 427,143.93 426.5,144.24 426,143.84 425.5,143.64 425,143.13 424.5,143.65 424,143.5 423.5,143.21 423,142.37 422.5,142.03 422,142.05 421.5,142.41 421,141.54 420.5,141.35 420,141.52 419.5,141.44 419,140.93 418.5,140.37 418,139.91 417.5,140.52 417,140.05 416.5,139.82 416,139.48 415.5,139.38 415,138.72 414.5,138.57 414,138.74 413.5,138.04 413,138.17 412.5,138.08 412,137.65 411.5,137.4 411,137.24 410.5,136.45 410,136.84 409.5,136.13 409,135.45 408.5,135.24 408,134.77 407.5,134.76 407,134.31 406.5,133.59 406,132.77 405.5,132.58 405,132.59 404.5,131.66 404,131.1 403.5,131.08 403,130.29 402.5,130.08 402,129.24 401.5,129 401,128.41 400.5,128.27 400,127.81 399.5,127 399,126.46 398.5,125.31 398,124.34 397.5,123.52 397,122.75 396.5,122 396,121.15 395.5,120.57 395,119.87 394.5,119.26 394,118.2 393.5,117.16 393,116.52 392.5,115.37 392,114.23 391.5,113.43 391,112.04 390.5,111.07 390,110.22 389.5,108.73 389,107.78 388.5,106.89 388,105.61 387.5,104.34 387,102.45 386.5,101.05 386,99.48 385.5,97.77 385,95.91 384.5,94.21 384,92.75 383.5,91.27 383,89.48 382.5,88.1 382,86.42 381.5,84.93 381,83.47 380.5,81.91 380,80.51 379.5,79.1 379,77.46 378.5,75.98 378,74.78 377.5,73.35 377,71.27 376.5,69.26 376,67.14" fill="#000"/>
<path d="M376.75 66.31V69.43M377 67.56V72.16M381 77.57V87.4M381.5 81.49V86.51M383.75 87.18V94.15M385.5 86.26V99.35M386.25 93.35V102.56M386.5 96.21V108.74M387.25 95.36V111.14M387.75 98.24V105.69M388.5 95.18V115.37M388.75 99.13V109.6M390 100.33V113.12M390.25 96.88V112.29M394 111.51V121.06M394.5 109.03V122.35M394.75 112.85V126.53M396 111.23V130.96M399.5 121.01V129.51M399.75 117.25V135.3M400.5 122.42V131.01M401 114.62V131.55M404.5 125.13V136.47M405 120.78V136.4M405.25 123.03V141.65M406.75 128.07V135.19M410 130.31V138.55M414.25 133.08V145.95M415.25 128.8V145.33M416.25 133.64V145.59M416.5 131.08V147.09M418.25 129.81V147.01M419.25 129.49V147.91M420.25 135.32V143.57M420.5 136.7V143.42M421 134.81V147.57M421.5 135.82V144.11M422.25 133.12V149.6M422.5 135.77V149.34M428 137.59V149.9M428.25 132.92V150.96M429.25 139.51V146.49M429.75 133.9V148.42M430 136.15V149.25M430.25 133.05V150.04M430.5 137.87V153.15M436.75 136.37V153.66M437.25 140.56V152.12M437.5 139.59V152.23M438 140.31V154.6M438.5 140.68V152M441.25 140.41V149.7M441.5 137.12V149.51M442 141.12V154.58M442.25 135.94V153M443 139.19V151.47M443.5 141.19V153.75M445 136.44V155.99M445.25 143.81V154.71M448.25 137.99V155.34M448.75 139.16V157.11M449.25 137.71V153.32M449.5 140.29V155.29M451.25 142.96V155.92M451.75 142.01V157.3M453.25 142.03V154.59M456.25 143.91V154.49M458.5 137.37V154.29M460.25 141.88V155.9M461 144.47V156.97M461.5 142.23V158.91M463.5 139.95V157.03M464.25 140.96V154.05M464.5 143.81V154.09M465 144.49V154.04M466.25 144.43V155.12M466.5 141.67V155.18M470 143.62V157.32M472.5 147.15V155.85M473.75 145.1V155.32M474.25 142.3V154.95M475.75 145.34V158.16M476 141.13V156.28M479.25 145.96V156.66M480.25 144.74V156.14M480.75 143.28V155.25M481.5 140.19V159.99M483.5 145.61V158.29M484.25 141.23V156.49M487.5 145.44V157.59M488.25 145.12V157.82M489.25 147.4V161.13M491 140.62V158.15M493 145.94V157.63M495.25 143.12V160.35M497.75 142.31V157.9M499.75 143.55V159.34M500 145.7V156.12M501.75 144.82V161.43M502.25 146.56V156.77M502.5 147.53V158.51M506.5 143.92V162.43M507.25 148.4V161.48M509 144.43V158.49M511.5 145.1V160.22M511.75 147.15V157.34M512 147.4V162.19M512.25 148.24V162.19M512.75 142.26V161.47M513.5 149.3V161.79M515.25 147.98V159.92" stroke="#000" stroke-width="0.7" fill="none" opacity="0.25"/>
<path d="M376.5 66.55V69.51M377.75 70.51V73.87M378 70.92V76.86M378.75 71.55V77.16M379.5 75.33V80.42M379.75 74.91V80.19M380 76.64V81.75M380.25 76.37V81M381.75 81.33V88.27M382.25 82.47V90.82M383.25 83.93V91.02M383.5 83.98V92.91M384.25 83.51V94.45M385 86.27V99.21M385.75 91.29V102.03M386 92.77V100.66M387.5 94.66V106.79M388 92.74V113.47M389 102.05V109.32M389.25 96.63V109.69M390.5 101.98V116.11M390.75 102.22V113.75M391.5 101.78V115.77M392 102.99V123.1M392.25 106.51V118.43M392.75 104.94V117.48M393 111.02V119.3M393.25 110.68V125.36M393.75 106.82V123.78M396.25 116.75V129.13M396.75 111.65V125.86M397.25 116.84V131.45M397.75 115.51V125.24M398 116.02V129.72M398.25 110.99V134M398.5 112.11V130.29M398.75 119.28V128.29M399 118.4V136.73M399.25 115.59V131.49M400.25 118.69V132.45M401.25 120.2V133.59M401.75 123.61V131.32M402.25 118.34V137.36M402.5 115.51V134.26M402.75 122.72V132.48M405.5 124.67V134.34M405.75 125.48V134.48M406.5 120.8V137.72M407 127.61V139.04M407.25 128.74V136.37M407.5 125.76V137.81M407.75 125.1V140.2M409.25 130.06V137.48M409.5 129.99V139.53M409.75 127.52V142.08M410.5 125.68V143.59M410.75 126.4V139.95M411.5 129.49V140.07M412.75 131.11V142.97M413.25 130.75V142.22M413.75 132.34V144.79M414.75 128.19V144.07M415 128.9V143.25M415.75 128.13V142.96M416 127.39V142.4M416.75 133.09V146.77M417 128.08V147.1M417.25 134.09V143.06M418 135.84V142.92M419 133.25V148.57M420 135.69V144.3M420.75 130.63V148.64M421.25 130.73V150.26M423.25 136.94V147.56M423.5 137.5V144.76M424 131.71V147M424.25 137.52V147.77M425.5 133.75V151.17M426.25 135.98V146.71M426.5 135.74V146.78M426.75 135.2V148.97M427 133.74V150.5M427.5 135.12V147.21M427.75 135.37V152.03M428.5 132.07V148.39M429 138.73V147.81M431.25 137.74V148.6M432.75 136.76V150.6M433 136.2V148.89M433.5 135.45V149.39M433.75 133.95V151.53M434 135.2V147.61M434.5 139.67V152.41M434.75 136.06V150.46M435 133.75V148.56M435.75 133.4V154.59M436.25 140.05V148.93M437.75 134.32V150.59M438.75 137.25V148.78M439.5 140.86V153.22M439.75 135.88V155.67M444 141.49V151.59M444.25 138.87V151.73M444.5 136.8V151.48M445.5 138.35V155.07M445.75 137.7V154.45M446.5 138.94V151.66M446.75 143.09V151.7M447.75 142.1V152.82M449 142.94V152.15M450 142.94V152.66M450.75 142.93V156.49M452 139.06V157.93M452.5 140.09V155.6M452.75 143.82V152.55M453.75 139V158.82M454.25 144.89V153.14M455.25 144.73V154.24M456.5 137.71V156.94M457.5 137.38V153.96M458 143.4V157.56M458.25 140.15V153.63M459 141.68V153.11M459.25 141.03V158.35M459.5 144.07V155.97M461.25 138.66V153.63M462 138.94V155M462.75 144.21V159.03M463 142.81V154.71M463.25 140.53V154.44M463.75 140.96V158.96M464 143.89V155.94M465.5 138.86V155.25M465.75 144.19V160.19M466.75 142.64V158.61M467.25 143.15V157.5M467.75 142.7V154.18M469.5 145.28V154.33M469.75 142.01V159.74M470.25 143.8V157.69M470.75 145.87V158.72M471.5 142.32V157.58M473.25 143.6V155.74M474.5 146.59V155.21M474.75 141.44V157.12M475 143.09V157.16M476.5 145.3V158.69M476.75 142.04V157.69M477.5 144.46V154.76M478 146.24V154.38M478.25 146.36V159.68M478.5 145.35V159.82M478.75 144.86V160.56M479 146.91V156.38M480.5 146.71V160.49M482.5 143.76V155.45M483.25 145.75V161.03M484 147.49V158.02M485 144.09V160.31M486 141.87V156.62M486.75 142.66V159.4M487 143.63V159.47M487.25 145.21V157.63M488 148.48V159.02M488.5 142.14V158.73M489 147.72V157.27M489.5 139.89V158.43M489.75 146.62V158.94M490 141.96V160.54M490.25 143.5V159.66M490.5 146.72V157.36M491.25 142.4V157.51M492 143.54V157.06M492.25 143.51V156.24M493.5 141.9V158.48M493.75 146.45V159.57M494.25 144.05V160.81M495.75 147.4V158.15M497.25 143.86V157.73M497.5 146.83V158.56M498 145.2V158.58M499.25 142.97V159.12M500.25 147.13V156.4M500.75 146.51V160.84M501 146.69V160.95M501.25 147.27V158.38M503 144.75V162.79M503.25 142.97V157.16M503.75 146.75V161.34M504 143.83V158.11M504.5 144.63V158.36M505.25 145.5V157.64M505.75 143.79V158.87M506 144.96V160.24M506.75 145.86V160.77M507.5 146.22V162.19M507.75 148.37V161.14M508.25 148.49V157.36M508.75 142.23V161.78M509.75 144.2V159.62M510 146.92V162.13M510.25 144.04V160.65M510.75 145.03V160.01M511 143.56V158.38M511.25 147.63V161.27M513 145.8V159.4M513.25 142.96V157.76M514.75 148.17V162.53" stroke="#000" stroke-width="0.7" fill="none" opacity="0.5"/>
<path d="M377.25 68.12V71.5M377.5 69.66V74.9M378.25 71.96V75.55M378.5 73.81V78.33M379 73.29V78.49M379.25 73.35V79.87M380.5 78.67V82.68M380.75 77.4V85.57M381.25 77.61V85.32M382 82.24V90.29M382.5 81.82V90M382.75 80.29V88.91M383 83.39V92M384 87.7V97.29M384.5 83.55V99.02M384.75 86.05V96.18M385.25 88.28V98.76M386.75 96.31V102.01M387 90.52V107.16M388.25 97.66V109.25M389.5 101.79V112.91M389.75 96.73V112.88M391 105.08V116.74M391.25 101.68V116.62M391.75 104.3V118.31M392.5 108.92V122.03M393.5 111.67V119.95M394.25 108.98V121.13M395 113.35V126.5M395.25 110.58V128.89M395.5 108.17V122.62M395.75 114.99V127.06M396.5 117.73V124.09M397 114.78V125.43M397.5 110.38V131.94M400 122.65V135.15M400.75 123.46V133.14M401.5 121.1V132.89M402 118.03V131.39M403 118.59V138.13M403.25 124.99V132.9M403.5 122.32V137M403.75 125.44V134.64M404 125.28V140.02M404.25 121.88V140.99M404.75 120.34V141.22M406 121.73V142.59M406.25 122.19V139.04M408 128.6V138.38M408.25 124.96V137.37M408.5 127.26V140.22M408.75 127.96V137.57M409 126.13V144.5M410.25 130.41V142.23M411 125.88V144.75M411.25 125.63V141.41M411.75 126.06V144.85M412 128.32V144.86M412.25 132.19V141.25M412.5 130.46V143.52M413 131.11V141.95M413.5 129.13V146.3M414 132.78V142.54M414.5 130.94V143.44M415.5 132.38V141.74M417.5 129.69V146.06M417.75 128.22V147M418.5 131.64V146.96M418.75 135.63V146.53M419.5 133.99V149.09M419.75 129.6V146.63M421.75 132.6V144.09M422 132.01V145.93M422.75 137.52V144.18M423 133.23V146.75M423.75 137.35V149.05M424.5 136.58V150.48M424.75 131.71V146.75M425 138.41V149.82M425.25 134.44V149.14M425.75 136.6V146.23M426 136.68V147.28M427.25 134.02V146.4M428.75 137.64V151.57M429.5 139.1V150.24M430.75 137.67V146.96M431 137.09V148.42M431.5 138.95V150.74M431.75 136.73V150.76M432 136.04V148.68M432.25 136.63V151.7M432.5 133.78V148.36M433.25 140.22V150.74M434.25 135.14V153.43M435.25 134.84V153.16M435.5 137.7V148.94M436 138.17V148.41M436.5 136.5V153.64M437 137.62V155.49M438.25 141.22V148.61M439 140.97V149.31M439.25 140.05V151.6M440 135.89V151.06M440.25 139.81V153.16M440.5 139.67V152.81M440.75 138.59V154.37M441 138.34V151.07M441.75 139.59V151.22M442.5 137.94V153.01M442.75 141.48V150.8M443.25 137.89V156.89M443.75 141.14V151.42M444.75 139.13V155.2M446 136.56V152.3M446.25 142.02V156.29M447 137.07V151.5M447.25 141.72V155.81M447.5 143.67V153.31M448 143.27V153.07M448.5 141.26V155.38M449.75 140.76V152.14M450.25 142.61V155.46M450.5 139.52V152.68M451 142.39V156.1M451.5 142.95V155.05M452.25 142.11V154.78M453 139.36V155.98M453.5 137.49V157.26M454 142.81V157.4M454.5 144.31V152.56M454.75 141.7V155.78M455 144.75V156.9M455.5 137.67V156.98M455.75 141.96V153.14M456 142.53V155.84M456.75 143.24V154.67M457 140.98V155.69M457.25 143.19V153M457.75 144.31V156.49M458.75 141.35V153.22M459.75 144.28V153.25M460 143.46V154.18M460.5 137.6V156.96M460.75 139.84V155.81M461.75 140.68V153.97M462.25 139.8V157.39M462.5 141.91V156.23M464.75 141.99V155.75M465.25 144.34V154.88M466 142.41V157.18M467 145.41V156.54M467.5 143.84V156.56M468 140.21V157.1M468.25 143.43V159.44M468.5 141.22V159.68M468.75 144.49V157.73M469 142.1V160.1M469.25 142.33V158.35M470.5 142.35V156.87M471 143.89V160.65M471.25 141.21V157.7M471.75 140.39V155.98M472 141.31V160.73M472.25 141.85V155.86M472.75 142.06V157.75M473 144.88V155.31M473.5 141.81V157.47M474 140.59V157.38M475.25 142.72V156.7M475.5 146.41V154.92M476.25 146.62V158.43M477 144.64V158.02M477.25 144.24V155.83M477.75 141.07V158.95M479.5 143.4V158.56M479.75 139.62V158.22M480 143.49V155.87M481 145.65V156.24M481.25 145.93V159.25M481.75 142.66V156.57M482 143.31V155.07M482.25 139.47V161.67M482.75 143.43V155.83M483 143.5V158.43M483.75 146.45V155.67M484.5 145.87V159.93M484.75 141.52V156.27M485.25 143.64V157.97M485.5 144.67V155.42M485.75 142.88V157.62M486.25 143.84V155.98M486.5 148.13V156.7M487.75 148.4V156.95M488.75 145.9V155.35M490.75 147.96V159.3M491.5 140.64V156.3M491.75 146.42V158.23M492.5 148.2V155.53M492.75 146.33V158.34M493.25 141.5V158.44M494 146.94V155.38M494.5 147.08V160.22M494.75 144.49V158.95M495 147.8V157.23M495.5 145.28V159.77M496 142.56V156.35M496.25 148.15V156.35M496.5 145.86V156.78M496.75 145.09V156.04M497 142.1V160.24M498.25 146.95V156.87M498.5 141.32V162.15M498.75 144.53V156.99M499 147.38V158.39M499.5 146.76V157.88M500.5 146.77V158.2M501.5 143.88V161.87M502 144.9V159.22M502.75 143.57V156.43M503.5 149.33V155.57M504.25 146.3V162.68M504.75 141.57V160.91M505 146.46V161.24M505.5 148.68V159.09M506.25 145.81V161.12M507 145.67V158.48M508 146.95V159.19M508.5 146.92V159.73M509.25 147.57V158.56M509.5 144.01V156.62M510.5 147.88V159.82M512.5 142.22V156.87M513.75 142.72V160.25M514 141.23V161.83M514.25 148.32V160.22M514.5 145.61V160.69M515 144.8V157.09" stroke="#000" stroke-width="0.7" fill="none" opacity="0.85"/>
<polygon points="379,62.52 379.5,64.83 380,67.18 380.5,69.44 381,71.76 381.5,74.22 382,76.44 382.5,78 383,79.79 383.5,81.26 384,82.83 384.5,84.47 385,86.22 385.5,87.71 386,89.34 386.5,90.99 387,92.46 387.5,93.91 388,95.46 388.5,96.86 389,98.43 389.5,99.92 390,101 390.5,102.09 391,103.17 391.5,104.38 392,105.25 392.5,106.52 393,107.26 393.5,108.6 394,109.39 394.5,110.12 395,110.69 395.5,111.55 396,112.05 396.5,112.94 397,113.56 397.5,114.39 398,115.25 398.5,115.8 399,116.79 399.5,117.12 400,117.74 400.5,118.2 401,118.71 401.5,119.6 402,120.05 402.5,120.15 403,120.81 403.5,121.22 404,121.24 404.5,121.89 405,122.67 405.5,122.8 406,123.56 406.5,123.78 407,124.42 407.5,124.56 408,125.59 408.5,126.22 409,126.46 409.5,126.7 410,127.21 410.5,127.15 411,127.45 411.5,127.89 412,128.6 412.5,128.29 413,128.53 413.5,129.26 414,128.99 414.5,129.12 415,130.07 415.5,130.04 416,130.1 416.5,130.87 417,130.96 417.5,131.46 418,131.21 418.5,131.76 419,131.85 419.5,131.89 420,132.26 420.5,133.06 421,133.32 421.5,133.49 422,133.19 422.5,133.75 423,134.4 423.5,134.12 424,134.52 424.5,134.82 425,134.86 425.5,135.25 426,135.52 426.5,135.24 427,135.37 427.5,135.4 428,135.48 428.5,136.21 429,136.49 429.5,136.11 430,136.04 430.5,137.01 431,136.55 431.5,136.53 432,136.51 432.5,137.02 433,137.62 433.5,137.02 434,137.84 434.5,137.82 435,137.65 435.5,137.77 436,138.44 436.5,137.87 437,138.52 437.5,138.93 438,138.19 438.5,138.7 439,138.84 439.5,138.67 440,139.62 440.5,139.3 441,139.66 441.5,139.51 442,140.02 442.5,139.45 443,140.32 443.5,139.9 444,140.6 444.5,140.36 445,140.55 445.5,140.92 446,140.55 446.5,141.18 447,140.83 447.5,141.29 448,140.65 448.5,140.63 449,141.13 449.5,141.54 450,141.47 450.5,140.87 451,141.62 451.5,141.24 452,141.69 452.5,141.64 453,141.62 453.5,141.59 454,141.68 454.5,141.41 455,142.02 455.5,141.88 456,142.46 456.5,142.15 457,142.08 457.5,142.27 458,142.42 458.5,142.01 459,142.42 459.5,142.69 460,142.27 460.5,143.06 461,142.45 461.5,142.64 462,143.27 462.5,142.79 463,142.93 463.5,142.69 464,143.25 464.5,143.62 465,143.74 465.5,143.06 466,143.1 466.5,143.58 467,143.55 467.5,143.23 468,143.76 468.5,143.67 469,143.62 469.5,143.53 470,143.77 470.5,143.59 471,144.42 471.5,144.34 472,144.55 472.5,143.95 473,143.81 473.5,144.09 474,144.82 474.5,143.93 475,144.47 475.5,144.4 476,144.41 476.5,144.87 477,144.14 477.5,144.21 478,145.09 478.5,144.74 479,144.66 479.5,145.09 480,144.33 480.5,144.91 481,145.14 481.5,145.35 482,144.96 482.5,145.34 483,144.73 483.5,145.13 484,144.86 484.5,145.42 485,145.51 485.5,145.66 486,145.7 486.5,145.63 487,144.95 487.5,145.39 488,145.38 488.5,145.71 489,145.36 489.5,146.03 490,145.26 490.5,145.78 491,145.46 491.5,145.93 492,145.99 492.5,146.21 493,145.34 493.5,145.84 494,145.79 494.5,145.74 495,145.66 495.5,145.58 496,145.69 496.5,145.8 497,145.7 497.5,145.96 498,146.05 498.5,146.32 499,145.81 499.5,146.44 500,146.13 500.5,146.61 501,146.75 501.5,146.64 502,146.22 502.5,146.4 503,145.93 503.5,146.12 504,145.98 504.5,146.68 505,146.63 505.5,146.05 506,146.88 506.5,146.85 507,146.9 507.5,146.7 508,147.11 508.5,146.49 509,146.24 509.5,146.57 510,147.04 510.5,146.89 511,147.12 511.5,146.35 512,147.2 512.5,147.27 513,146.88 513.5,146.99 514,147.4 514.5,146.58 515,146.99 515,150.21 514.5,150.05 514,150.34 513.5,150.09 513,149.65 512.5,150.18 512,150.26 511.5,150.19 511,149.67 510.5,149.95 510,150.26 509.5,149.91 509,150.16 508.5,149.75 508,150.15 507.5,149.19 507,149.56 506.5,149.33 506,149.42 505.5,149.41 505,149.34 504.5,149.4 504,149.57 503.5,149.14 503,149.16 502.5,149.8 502,149.54 501.5,148.91 501,149.28 500.5,149.3 500,149.15 499.5,149.52 499,149.64 498.5,149.33 498,148.97 497.5,148.85 497,149.09 496.5,148.65 496,149.4 495.5,149.44 495,149.34 494.5,149.34 494,148.88 493.5,148.63 493,149.37 492.5,148.56 492,148.68 491.5,148.96 491,149.22 490.5,148.49 490,148.77 489.5,148.23 489,148.5 488.5,148.42 488,148.15 487.5,148.5 487,148.25 486.5,148.05 486,147.96 485.5,147.84 485,148.61 484.5,148.26 484,148.32 483.5,147.66 483,147.87 482.5,147.84 482,147.7 481.5,148.26 481,148.38 480.5,148.05 480,148.05 479.5,147.63 479,147.74 478.5,147.23 478,147.56 477.5,148.14 477,147.38 476.5,147.6 476,147.48 475.5,147.75 475,147.62 474.5,147.48 474,147.27 473.5,147.25 473,147.14 472.5,147.36 472,146.86 471.5,147.39 471,147.39 470.5,147.4 470,147.27 469.5,146.67 469,146.75 468.5,146.94 468,146.73 467.5,146.78 467,146.75 466.5,146.15 466,146.5 465.5,146.92 465,146.29 464.5,146.44 464,146.38 463.5,146.37 463,146.32 462.5,146.17 462,146.4 461.5,145.99 461,145.87 460.5,145.62 460,145.54 459.5,145.28 459,145.73 458.5,144.97 458,145.31 457.5,145.61 457,145.09 456.5,144.7 456,145.25 455.5,144.63 455,145.43 454.5,144.56 454,144.66 453.5,145.1 453,145.03 452.5,144.19 452,145.02 451.5,144.49 451,144.5 450.5,144.23 450,144.68 449.5,144.2 449,144.24 448.5,144.36 448,144.23 447.5,143.98 447,143.77 446.5,144.08 446,143.87 445.5,143.85 445,143.68 444.5,143 444,143.2 443.5,143.55 443,142.78 442.5,142.55 442,142.71 441.5,142.34 441,142.07 440.5,142.45 440,142.6 439.5,142.33 439,141.97 438.5,141.84 438,142.11 437.5,141.26 437,141.47 436.5,141.39 436,141.35 435.5,140.77 435,140.38 434.5,141.07 434,140.7 433.5,140.31 433,140.14 432.5,140.33 432,140.39 431.5,139.55 431,139.92 430.5,139.9 430,139.46 429.5,139.56 429,139.22 428.5,139.1 428,139.2 427.5,138.75 427,138.46 426.5,138.24 426,138.71 425.5,137.78 425,137.64 424.5,137.78 424,137.61 423.5,137.62 423,137.41 422.5,136.57 422,136.38 421.5,135.85 421,135.77 420.5,135.88 420,135.16 419.5,135.15 419,134.63 418.5,134.6 418,134.09 417.5,134.13 417,133.85 416.5,133.95 416,132.98 415.5,132.93 415,132.49 414.5,132.69 414,132.22 413.5,131.86 413,132.14 412.5,131.88 412,131.47 411.5,131.26 411,130.38 410.5,130.63 410,130.35 409.5,129.79 409,129.54 408.5,128.72 408,127.99 407.5,127.54 407,127.35 406.5,126.7 406,126.52 405.5,126.23 405,125.11 404.5,125.26 404,124.83 403.5,124.27 403,123.81 402.5,122.92 402,122.34 401.5,122.2 401,121.45 400.5,121.03 400,120.31 399.5,120.03 399,119.31 398.5,118.67 398,118.16 397.5,117.53 397,116.52 396.5,115.5 396,115.11 395.5,114.05 395,113.6 394.5,112.92 394,112.1 393.5,111.33 393,110.4 392.5,109.5 392,108.18 391.5,107.17 391,105.85 390.5,104.98 390,103.68 389.5,102.77 389,101.52 388.5,99.59 388,98.41 387.5,96.81 387,95.13 386.5,93.57 386,92.36 385.5,90.67 385,88.86 384.5,87.16 384,85.4 383.5,83.74 383,82.05 382.5,80.44 382,78.65 381.5,77 381,74.71 380.5,72.25 380,69.81 379.5,67.46 379,65.17" fill="#000"/>
<path d="M382.25 75.37V79.4M382.75 77.29V81.68M383.5 76.63V85.21M385 84.09V93.45M386 82.79V93.88M387.25 85.82V100.9M387.75 91.72V102.93M388.75 95.38V101.3M389.25 95.77V105.71M389.75 91.33V107.62M390.25 96.35V109.78M390.5 96.53V107.47M393.25 100.5V113.87M394.25 98.94V119.29M396 106.29V118.09M396.25 102.16V117.82M398 112.21V120.73M398.5 108.57V128.12M401 110.05V124.64M404.25 117.06V129.81M407.25 121.91V130.01M408 121.55V131.81M408.25 117.86V135.52M409 123.97V131.16M409.5 122.02V135.92M410 121.07V133.3M412.25 120.28V134.36M413 119.74V134.81M417 125.15V140.15M418 127.41V137.27M418.25 124.72V138.55M420 130.7V139.24M422.75 129.68V141.64M423.25 125V143.17M423.5 128.51V141.83M423.75 126.28V142.3M424.25 130V139.67M424.75 131.68V142.24M427 132.1V142.06M431.75 133.09V147.41M433.75 133.67V144.06M435.25 134.02V144.6M435.75 130.34V143.72M437.25 135.61V145M439.25 132.99V145.85M440.75 133.39V149.24M441.25 136.9V147.72M441.5 133.49V145.36M443.5 130.87V149.35M445.25 138.43V145.52M445.75 133.27V152.35M447.25 136.72V148.25M448.75 132.36V148.31M451.25 135.12V151.21M451.5 135.91V151.92M452.25 138.61V146.74M453 134.22V149.75M454.5 138.68V151.04M454.75 138.61V149.24M456.75 135.21V153.05M457.25 139.77V150.41M458.75 136.92V153.35M462.25 139.43V152.23M463.25 140.36V149.62M465 135.9V153.64M465.75 134.85V151.03M469.25 140.24V151.83M469.75 137.35V149.62M470.5 141.6V153.02M472.5 140.4V153.37M473.5 141.38V155.33M476 136.07V152.27M476.5 140.49V156.17M476.75 134.4V155.44M478.75 140.83V152.86M480 142.43V153.1M483.75 136.03V153.89M484.5 137.09V155.94M485.75 137.62V152.14M486.5 138.07V150.98M486.75 140.89V157.68M488.25 136.99V151.33M488.75 137.39V157.21M489 137.69V152.07M490 138.56V156.02M491.25 139.57V152.93M491.5 141.74V155.17M493.25 137.81V152.55M495.5 139.73V152.77M496 138.24V152.88M497.25 138.25V156.86M497.5 142.01V154.75M499 139.34V152.18M500 140.85V155.42M502.25 137.36V151.92M502.5 137.75V157.87M502.75 140.72V153.4M504.25 139.4V154.02M504.75 142.41V153.75M505.25 140.12V153.99M508.75 137.25V152.92M510 139.42V154.02M510.25 137.84V156.63M510.75 140.92V155.07M511.75 141.25V158.28M513.5 144.42V155.76M513.75 143.86V155.4M514 142.5V157.59M514.75 144.01V157.05" stroke="#000" stroke-width="0.7" fill="none" opacity="0.25"/>
<path d="M379.5 64.34V67.89M380.25 66.24V70.5M380.5 68.09V73.38M380.75 68.24V73.75M381.25 69.99V76.01M383 78.95V85.29M384.25 80.16V86.49M384.75 80.52V89.29M385.25 81.09V89.99M385.5 84.83V91.96M386.25 83.82V93.78M387 87.98V97.59M387.5 91.43V98.93M388 91.49V101.91M388.25 89.22V101.4M389 92.12V102.92M390 100.21V108.47M390.75 99.43V107.64M391.25 95.91V113.08M391.5 93.97V112.69M391.75 95.34V108.44M392 102.94V111.49M393 98.35V112.5M393.5 106.85V112.84M394 101.18V121.09M394.5 104.32V115.07M395.25 102.62V118.3M396.5 103.3V120.73M397 106.95V124.29M397.5 112.73V121.91M397.75 106.34V123.46M398.25 108.07V122.15M398.75 111.66V124.8M399 114.55V125.62M399.25 108.22V121.1M399.5 113.48V125.84M399.75 114.51V126.43M400.25 108.2V123.58M401.25 116.46V130.16M401.75 112.63V130.38M402.25 112.84V131.46M402.5 116.57V124.72M403 111.48V130.31M403.25 117.45V125.61M403.5 117.33V126.39M403.75 116.71V133.56M404.5 116.08V131.13M404.75 119.54V127.19M405.5 114.94V129.18M406.25 115.76V130.91M406.75 116.99V134.24M407 115.75V136.18M407.5 117.6V130.65M408.5 118.43V130.84M408.75 119.21V136.89M410.5 121.69V133.27M410.75 120.61V136.44M411 124.99V137.3M411.25 122.81V135.94M411.75 126.14V135.01M412 123.31V137.68M412.5 123.72V138.43M412.75 121.27V137.1M414.25 121.04V136.17M414.75 122.79V136.41M415 126.9V139.02M415.5 126.71V137.94M415.75 127.34V136M416.75 124.16V138.26M417.5 126.83V137.77M417.75 124.64V136.94M418.5 126.17V142.33M418.75 125.75V136.6M419.25 129.24V137.44M420.75 125.99V140.11M421 127.56V141.55M423 130.26V141.57M424 132.03V143.15M425 130.69V144.48M425.75 125.85V142.37M426.25 130.51V145.24M426.5 128.39V144.55M427.75 133.51V143.76M428.25 131.13V143.64M428.5 132.63V142.28M428.75 133.15V143.42M429 131.49V143.86M429.25 130.54V142.87M429.5 133.1V145.6M430.25 128.8V146.42M430.5 133.85V142.86M431 134.84V142.16M432 134.01V143.06M432.25 130.11V142.54M432.75 135.02V144.65M433.25 130.37V146.11M433.5 131.06V142.66M434.25 132.68V143.73M434.5 135.82V143.34M434.75 132.44V146.22M436.25 131.05V147.82M437 133.91V147.14M437.5 132.66V145.33M438 130.66V148.96M438.25 135.45V143.58M439 135.06V146.34M440.25 130.92V147.69M442.25 133.76V147.76M442.75 133.24V147.74M443.75 134.71V148.2M444 134.3V149.9M445 135.31V147.92M446 134.07V147.11M446.5 136.64V145.54M446.75 131.78V152.04M447 135.96V148.15M447.5 138.2V146.9M448.5 137.64V151.66M449.75 139.46V149.52M450 137.32V150.17M450.25 136.76V148.8M451 138.44V147.46M451.75 133.88V148.55M452.75 132.36V148.34M453.25 138.19V149.85M453.75 135.57V151.88M454.25 133.33V152.87M455.5 135.54V151.31M455.75 136.84V149.8M456 137.21V151.94M457 139.78V147.93M457.5 137.22V150.61M457.75 138.74V153.27M459.25 136.08V149.71M460 133.77V150.62M460.75 134.13V150.76M461 136.77V147.79M461.5 137.7V152.51M462.5 140.62V150.75M462.75 138.61V152.47M463 139.55V148.03M463.5 135.06V154.16M464 137.59V154.17M464.25 138V149.64M464.75 138.54V149.2M466.25 134.89V153.53M466.5 139.84V150.82M466.75 137.63V152.22M467 134.64V151.55M467.25 137.99V148.5M468.5 140.77V154.74M468.75 139.87V150.59M469 134.85V152.12M469.5 139.33V154.51M470.25 141.71V149.59M470.75 140.45V153.54M471 140.4V154.27M471.25 139.1V149.98M472.25 139.02V152.06M473.75 136.71V151.19M474 137.88V152.89M474.25 142.08V148.97M474.5 136.74V151.51M474.75 137.06V153.95M475.5 136.41V151.05M475.75 136.12V156.43M477.25 137.12V150.49M477.5 141.77V153.95M479.25 136.7V152.57M479.75 138.46V151.59M480.5 141.4V152.57M481.75 142.01V153.31M482.75 141.73V155.14M483.25 141.64V151.51M484.75 138.93V154.39M485 138.72V150.86M486 139.39V155.63M486.25 135.57V152.83M487.25 136.77V151.31M487.5 142.93V153.18M487.75 142.91V152.88M489.25 141.1V154.54M489.5 142.45V152.46M489.75 140.21V153.99M490.25 138.51V154.13M490.75 141.21V157.46M491.75 138.39V156.17M492.25 139.65V153.88M492.5 142.59V157.13M492.75 136.57V151.78M493.5 138.87V151.89M494 140.95V155.67M494.5 140.18V151.25M495 142.57V154.97M495.25 140.14V151.59M496.25 141.9V152.94M496.5 142.25V156.14M497 144.38V151.2M498.25 138.98V156.13M498.5 141.91V157.68M499.25 136.91V152.55M500.5 142.64V152.75M501 138.63V152.97M501.25 142.56V153.44M501.75 142.22V157.36M502 140.85V155.43M503.5 138.61V155.57M503.75 138.09V153.64M505 140.36V156.96M505.75 136.74V157.17M506 141.75V153.12M506.75 139.08V153.08M507 142.71V154.14M507.75 140.25V152.79M508.25 141.86V154.65M508.5 140.8V151.6M509 141.76V152.03M509.25 143.47V155.42M509.5 142.43V154.97M510.5 140.76V156.81M511 141.55V154.46M511.25 141.02V155.57M511.5 142.89V153.04M512 141.86V156.89M512.25 138.17V156.53M512.5 138.8V152.29M512.75 140.74V154.21M514.5 144.68V152.16" stroke="#000" stroke-width="0.7" fill="none" opacity="0.5"/>
<path d="M379.75 64.37V67.72M380 66.84V70.68M381 71.21V75.81M381.5 72.79V78.27M381.75 73.7V77.8M382 75.12V79.77M382.5 76.68V82.38M383.25 75.98V85.85M383.75 79.65V86.15M384 82.13V87.63M384.5 82.26V91.76M385.75 84.35V93.31M386.5 85.96V98.66M386.75 85.85V96.81M388.5 92.57V101.37M389.5 93.37V106.24M391 96.84V114.8M392.25 97.45V112.17M392.5 104.45V112.6M392.75 96.59V115.13M393.75 99.81V114.04M394.75 106.71V115.83M395 107.08V120.23M395.5 101.75V123.31M395.75 109.2V116.54M396.75 109.33V124.9M397.25 110.89V118.39M400 111.04V126.99M400.5 110.24V124.02M400.75 108.81V127.99M401.5 109.98V128.66M402 112.99V128.66M402.75 110.89V128.83M404 118.36V131.73M405 115.04V129.13M405.25 113.15V134.36M405.75 114.58V134.2M406 120.96V128.22M406.5 115.85V129.33M407.75 121.18V130.26M409.25 115.89V138.05M409.75 121.19V132.19M410.25 123.02V137.94M411.5 124.61V134.11M413.25 126.45V138.59M413.5 124.08V139.23M413.75 123.77V135.72M414 124.07V134.59M414.5 126.52V138.24M415.25 127.98V134.46M416 124.52V139.63M416.25 123.85V137.34M416.5 124.3V139.33M417.25 129.14V139.77M419 127.04V137.53M419.5 127.96V136.97M419.75 128.83V141.75M420.25 128.57V141.16M420.5 125.03V142.58M421.25 128.33V140.42M421.5 129.86V143.31M421.75 127.16V141.6M422 127.54V142.69M422.25 131.23V138.72M422.5 131.56V138.93M424.5 127.2V142.83M425.25 128.98V144.54M425.5 127.63V140.13M426 132.15V145.48M426.75 132.36V142.53M427.25 131.6V145.74M427.5 132.42V145.75M428 128.2V145.51M429.75 133.42V144.09M430 129.79V143.83M430.75 134.39V142.93M431.25 133.35V142.64M431.5 128.9V147.67M432.5 133.88V143.07M433 133.51V145.48M434 129.61V145.65M435 132.26V146.35M435.5 132.96V148.58M436 130V147.01M436.5 133.57V144.2M436.75 136.3V145.16M437.75 135.31V148.42M438.5 132.62V145.21M438.75 129.71V148.93M439.5 133.34V146.59M439.75 130.86V144.92M440 131.86V147.33M440.5 133.28V144.83M441 136.24V145.43M441.75 131.79V145.6M442 131.65V146.27M442.5 136.05V148.65M443 137.04V145.22M443.25 134.01V147.16M444.25 134.45V149.87M444.5 134.74V147.52M444.75 134.78V149.47M445.5 138.2V150.32M446.25 131.6V148.28M447.75 133.4V150.78M448 136.25V151.31M448.25 132.84V152.41M449 138.23V151.24M449.25 134.43V152.33M449.5 132.45V148.22M450.5 132.84V151.54M450.75 135.03V148.11M452 137.85V152.98M452.5 138.79V151.8M453.5 138.27V147.37M454 137.15V150.5M455 134.73V149.39M455.25 137.64V149.78M456.25 135.77V152.44M456.5 138.52V153.04M458 137.98V148.53M458.25 135.9V148.83M458.5 138.89V149.92M459 139.12V149.46M459.5 134.91V152.54M459.75 139.09V149.29M460.25 138.37V150.19M460.5 134.41V148.83M461.25 134.06V148.57M461.75 135.11V148.25M462 134.19V150.74M463.75 134.38V154.54M464.5 138.76V151.96M465.25 141.11V149.04M465.5 139.93V151M466 135.85V151.36M467.5 137.19V150.79M467.75 138.92V153.86M468 135.33V155.15M468.25 140.12V151.49M470 136.28V150.48M471.5 140.61V152.13M471.75 136.37V154.46M472 140.97V150.55M472.75 136.57V153.59M473 135.97V153.55M473.25 141.54V151.31M475 142.42V153.32M475.25 137.27V155.68M476.25 142.52V155.19M477 137.4V151.41M477.75 136.1V151.78M478 137.92V153.39M478.25 141.82V155.13M478.5 141.96V151.32M479 141.83V150.65M479.5 142.29V150.15M480.25 138.71V151.14M480.75 140.94V153M481 141.05V151.24M481.25 137.28V151.47M481.5 138.65V150.82M482 135.28V151.95M482.25 140.95V151.17M482.5 137.86V153.92M483 136.99V155.87M483.5 138.23V155.05M484 140.74V152.48M484.25 143.35V155.49M485.25 138.34V151.17M485.5 139.88V154.2M487 141.23V152.01M488 140.83V151.55M488.5 137.53V155.78M490.5 140.35V151.88M491 139.99V153.27M492 138.16V156.2M493 137.42V153.59M493.75 139.26V153.34M494.25 142.11V153.97M494.75 139.48V157.43M495.75 141.67V155.56M496.75 142.69V156.48M497.75 139.63V154.59M498 143.31V153.98M498.75 143.34V151.2M499.5 138.39V152.25M499.75 140.09V153.6M500.25 140.54V156.43M500.75 137.99V153.39M501.5 139.62V152.36M503 137.05V153.07M503.25 136.33V156.5M504 137.87V155.07M504.5 141.88V155.98M505.5 141.62V157.16M506.25 141.19V156.99M506.5 140.73V155.22M507.25 141.59V156.85M507.5 144.31V151.64M508 140.39V158.61M509.75 142.88V153.6M513 140.94V152.69M513.25 139.06V152.26M514.25 141.08V152.74M515 140.88V153.5M515.25 143.41V156.66" stroke="#000" stroke-width="0.7" fill="none" opacity="0.85"/>
<polygon points="405,53.67 405.5,55.62 406,57.3 406.5,58.99 407,60.66 407.5,62.33 408,64.04 408.5,65.63 409,67.66 409.5,69.67 410,71.6 410.5,73.55 411,75.62 411.5,77.52 412,79.45 412.5,81.41 413,83.43 413.5,85.38 414,87.11 414.5,88.96 415,90.24 415.5,91.52 416,92.71 416.5,94.04 417,95.16 417.5,96.35 418,97.52 418.5,98.7 419,99.77 419.5,100.6 420,101.86 420.5,103.05 421,104.23 421.5,104.94 422,105.95 422.5,106.83 423,107.77 423.5,108.68 424,109.82 424.5,110.99 425,111.63 425.5,112.83 426,113.82 426.5,114.61 427,115.06 427.5,115.67 428,116.86 428.5,117.31 429,118.58 429.5,118.78 430,119.84 430.5,120.1 431,120.91 431.5,121.65 432,122.76 432.5,123.05 433,123.88 433.5,124.38 434,125.17 434.5,125.57 435,125.89 435.5,126.24 436,127.28 436.5,127.45 437,127.99 437.5,128.24 438,129.49 438.5,129.21 439,130.31 439.5,130.86 440,131.55 440.5,131.5 441,131.92 441.5,131.89 442,132.04 442.5,132.65 443,132.8 443.5,133.54 444,133.56 444.5,133.97 445,133.79 445.5,134.59 446,134.96 446.5,135.25 447,135.11 447.5,135.78 448,136.27 448.5,136.17 449,136.11 449.5,136.57 450,137.59 450.5,137.26 451,137.58 451.5,137.62 452,137.96 452.5,138.22 453,138.24 453.5,138.31 454,138.24 454.5,138.34 455,138.47 455.5,138.99 456,139.12 456.5,138.93 457,139.15 457.5,139.16 458,139.37 458.5,139.53 459,139.53 459.5,139.89 460,139.89 460.5,140.03 461,140.38 461.5,139.88 462,140.14 462.5,140.76 463,141.01 463.5,140.86 464,141.28 464.5,141.23 465,141.29 465.5,141.3 466,140.9 466.5,141.22 467,141.68 467.5,141.92 468,141.86 468.5,141.7 469,141.47 469.5,141.95 470,141.99 470.5,141.93 471,141.78 471.5,142.63 472,142.64 472.5,142.57 473,142.16 473.5,142.71 474,142.96 474.5,142.46 475,142.67 475.5,143.34 476,142.94 476.5,142.65 477,143.05 477.5,143.33 478,143.3 478.5,143.6 479,143.36 479.5,143.76 480,144.05 480.5,143.84 481,143.88 481.5,143.44 482,143.83 482.5,143.56 483,144.29 483.5,143.84 484,143.93 484.5,143.89 485,144.58 485.5,144.17 486,144.65 486.5,144.08 487,143.93 487.5,144.38 488,144.32 488.5,144.15 489,144.28 489.5,144.21 490,144.24 490.5,144.68 491,144.37 491.5,145.15 492,144.64 492.5,144.47 493,145.34 493.5,144.62 494,145.07 494.5,145.01 495,144.97 495.5,145.1 496,144.85 496.5,145.35 497,145.72 497.5,145.48 498,145.71 498.5,145.92 499,145.12 499.5,145.65 500,145.7 500.5,145.78 501,145.64 501.5,145.97 502,145.81 502.5,146.07 503,145.9 503.5,145.98 504,146.36 504.5,146.24 505,145.77 505.5,145.9 506,146.19 506.5,146.39 507,146.17 507.5,146 508,146.3 508.5,146.26 509,146.47 509.5,146.23 510,146.58 510.5,146.91 511,146.84 511.5,146.51 512,146.53 512.5,146.95 513,147.29 513.5,147.15 514,147.37 514.5,147.38 515,146.84 515,150.12 514.5,150.13 514,149.64 513.5,150 513,149.87 512.5,150.06 512,149.53 511.5,149.96 511,149.19 510.5,149.41 510,149.47 509.5,149.39 509,149.65 508.5,149.53 508,148.91 507.5,148.76 507,149.33 506.5,148.92 506,148.75 505.5,148.67 505,149.03 504.5,148.8 504,148.73 503.5,148.34 503,148.87 502.5,148.66 502,148.37 501.5,148.36 501,148.69 500.5,148.3 500,148.07 499.5,148.66 499,148.14 498.5,148.04 498,148.3 497.5,147.79 497,147.86 496.5,147.76 496,148.34 495.5,147.8 495,148.24 494.5,147.63 494,147.92 493.5,147.89 493,147.32 492.5,147.66 492,147.71 491.5,147.24 491,147.93 490.5,147.48 490,147.07 489.5,147.51 489,147 488.5,147.65 488,147.27 487.5,147.55 487,146.85 486.5,147.29 486,146.91 485.5,147.05 485,146.81 484.5,146.47 484,147.11 483.5,146.34 483,146.78 482.5,146.35 482,146.96 481.5,146.89 481,146.95 480.5,146.63 480,146.72 479.5,146.31 479,145.84 478.5,146.1 478,145.91 477.5,145.82 477,145.69 476.5,146.1 476,145.9 475.5,145.51 475,145.26 474.5,145.2 474,145.03 473.5,145.24 473,145.69 472.5,145.63 472,145.38 471.5,144.86 471,144.81 470.5,145.16 470,144.77 469.5,144.56 469,144.88 468.5,144.07 468,144.34 467.5,144.65 467,144.16 466.5,143.94 466,144.1 465.5,144.08 465,143.49 464.5,144.18 464,143.86 463.5,143.33 463,143.11 462.5,143.66 462,143.47 461.5,143.35 461,142.6 460.5,143.1 460,142.56 459.5,142.79 459,142.05 458.5,142.31 458,141.78 457.5,141.87 457,142.28 456.5,142.02 456,141.44 455.5,141.87 455,141.19 454.5,141.51 454,141.4 453.5,140.64 453,140.74 452.5,140.59 452,140.11 451.5,140.06 451,140.67 450.5,140.49 450,139.8 449.5,139.53 449,139.21 448.5,139.25 448,138.95 447.5,138.94 447,138.08 446.5,137.93 446,137.5 445.5,137.84 445,136.96 444.5,137.25 444,136.33 443.5,136.15 443,135.73 442.5,135.96 442,135.8 441.5,135.23 441,134.38 440.5,134.13 440,134.14 439.5,133.66 439,133.7 438.5,132.64 438,132 437.5,131.69 437,131.33 436.5,130.83 436,130.45 435.5,129.87 435,129.46 434.5,128.96 434,127.87 433.5,127.59 433,127.13 432.5,125.79 432,125.79 431.5,124.88 431,123.92 430.5,123.58 430,122.55 429.5,122.26 429,121.09 428.5,120.21 428,119.67 427.5,118.86 427,117.91 426.5,117.13 426,116.61 425.5,115.97 425,114.73 424.5,113.83 424,112.48 423.5,112.03 423,110.82 422.5,109.75 422,109.07 421.5,107.61 421,106.97 420.5,105.55 420,104.42 419.5,103.23 419,102.22 418.5,100.91 418,99.71 417.5,98.51 417,97.52 416.5,96.16 416,95.16 415.5,93.57 415,92.55 414.5,91.06 414,89.88 413.5,87.98 413,85.99 412.5,84.12 412,82.15 411.5,80.18 411,78.22 410.5,76.16 410,74.11 409.5,72.06 409,70.02 408.5,68.01 408,66.04 407.5,64.3 407,62.61 406.5,60.89 406,59.22 405.5,57.53 405,55.81" fill="#000"/>
<path d="M406.25 56.94V59.52M407 60.3V63M407.25 59.91V63.03M409.25 66.9V71.12M409.5 68.91V72.79M410.25 70.8V74.64M411 74.84V79.3M416 89.33V96.49M421.25 102.39V110.28M421.5 101.18V111.45M422.25 101.58V110.41M425.5 110.22V118.06M426 111.67V120.95M427 109.1V123.27M428.5 115.59V125.53M429 115.75V124.49M429.5 115.81V124.61M430 114.97V128.82M430.5 116.15V126.19M431.25 119.77V127.69M433 120.16V130.26M436.5 125.05V137.57M437 123.56V138.51M438.75 125.12V137.78M439 122.51V137.71M439.25 123.87V136.48M440 128.07V137.97M441.75 127.88V141.68M443.5 131.39V138.17M444.5 131.61V141.92M445.25 129.62V143.24M446 127.75V142.57M446.75 131.86V141.5M450.25 131.79V145.62M451.25 134.76V143.96M452 133.42V147.64M453 132.15V144.03M453.25 131.69V144.6M456.5 132.75V148.05M456.75 135.55V146.13M457 134.8V145.08M457.25 133.01V147.06M458.75 137.11V144.45M463.25 134.02V149.95M464 136.04V147.74M464.25 137.95V147.72M465.25 138.79V149.84M465.5 136.97V149.27M465.75 137.8V146.53M466 134.92V148.68M467 139.87V147.61M467.25 136.73V147.23M468 135.76V149.44M469 136.36V150.39M469.25 139.6V148.25M470.5 139.53V147.7M470.75 140.33V148.67M473.5 139.22V151.74M476.5 138.59V149.45M476.75 135.98V149.13M478 140.55V152.46M478.5 140.12V150.66M478.75 140.93V151.88M483 138.72V151.23M485.5 142.4V148.7M487 140.76V152.7M487.25 142.47V152.44M488.75 141.3V152.57M489.5 137.83V151.39M490.25 139.64V151.01M491.5 139V152.69M492.75 137.52V150.83M495.25 140.3V151.03M495.5 142.1V153.08M495.75 143.17V151.27M497.25 143.1V153.55M497.75 140.98V153.18M498.5 142.24V153.65M499.5 143.39V151.45M501.5 141.47V151.97M502.75 139.49V151.92M504 143.55V150.81M505 143.96V152.04M505.25 141.16V151.37M506.25 142.27V152.84M506.75 141.9V153.05M507.25 139.92V153.29M510 141.25V154.99M512.75 144.17V154.73M513 143.99V155.23M514.75 144.76V155.24M515.25 144.33V155.03" stroke="#000" stroke-width="0.7" fill="none" opacity="0.25"/>
<path d="M406 57.12V59.47M407.75 61.53V64.73M410 70.93V74.66M411.25 74.72V79.31M411.5 75.88V80.79M411.75 76.15V80.56M412 77.85V82.87M412.75 80.05V85.23M413 82.36V86.99M413.25 80.99V87.97M413.5 83.05V89.74M414 85.54V91.08M414.25 84.96V92M415 89.02V94.3M415.75 89.93V94.85M416.75 92.57V98.4M417 91.35V98.97M417.25 92.97V98.77M418 94.31V101.2M418.75 94.03V103.49M419 96.17V104.95M419.25 97.22V105.1M419.5 99.15V106.22M419.75 96.62V107.45M420.25 100.68V107.63M421.75 102.5V111.02M422.75 102.28V113.41M423.25 103.62V113.92M423.5 106.73V115.14M424.75 106.35V116.07M425.75 106.58V117.53M426.5 109.27V122.87M426.75 109.27V122.49M427.25 113.78V123.57M427.5 112.85V122.2M427.75 109.73V124.57M428 112.24V123.38M428.25 110.49V121.95M428.75 115.42V124.2M430.75 114.98V125.56M431 114.09V126.52M431.5 118.75V129.45M432 118.33V129.28M432.25 120.46V128.18M432.5 118.78V132.21M433.5 115.77V133.76M435.75 123.49V133M436 120.19V132.17M436.25 124.84V135.76M436.75 121.54V135.13M437.25 121.67V136.09M438 123.65V139.26M438.25 126.74V137.79M440.25 128.08V140.92M441.25 127.63V137.35M442 128.91V137.49M442.25 126.68V140.67M444 128.42V140.02M444.75 127.11V142.09M445 129.62V143.75M445.5 127.9V139.73M447.75 131.63V141.25M448.75 132.8V142.24M449 134.04V141.59M449.5 131.01V144.31M449.75 128.65V145.28M450 132.36V146.3M450.5 132.72V144.14M450.75 131.43V146.29M451.5 130.54V144.05M452.25 130.67V143.4M452.5 132.47V146.11M453.5 133.71V144.27M453.75 136.36V145.38M454.25 135.68V143.1M454.5 135.13V144.93M454.75 134.02V146M455 132.03V144.57M455.75 133.46V145.69M456.25 132.64V144.53M457.75 136.51V148.35M458 132.66V144.6M458.25 132.33V148.18M458.5 134.83V146.04M459 137.34V148.58M459.25 135.3V144.65M459.75 133.48V147.73M460.25 133.59V145.94M460.5 133.87V144.99M460.75 134.79V147.4M461 136.98V148.5M461.5 134.81V147.98M462.75 134.78V147.94M463.5 136.82V148.6M464.75 138.76V149.41M465 138.78V147.06M466.25 136.01V149.15M466.75 137.21V150.29M467.75 136.33V148.61M468.75 139.7V149.72M469.5 138.73V147.07M471.25 135.16V149.81M471.75 135.96V151.33M472.75 139.48V148.5M473 136.4V148.69M473.25 137.57V148.19M474 138.45V149.84M474.5 139.57V150.98M475.25 137.43V152.55M476.25 135.89V150.33M477.25 137.57V149.8M477.5 138.26V151.13M479.25 138.96V148.96M479.5 139.29V150.7M480.5 138.69V150.24M481 140.73V153.37M481.25 138.11V149.47M482.25 141.06V149.65M482.75 137.85V150.93M483.25 140.77V150.11M484 140.46V148.29M484.75 140.83V150.09M485.75 140.03V151.26M486 137.73V152.25M486.75 142.39V151.44M487.5 139.63V150.86M487.75 138.16V152.55M488.25 141.91V149.51M488.5 140.73V153.52M489 138.14V150.94M489.25 140.68V149.77M490 139.22V152.2M490.5 140.38V150.94M491 141.1V150.41M491.25 143.05V149.12M491.75 140.52V153.02M492 138.52V151.07M492.5 138.55V152.55M493 138.8V153.02M493.25 141.95V151.92M494 141.78V152.57M494.5 142.42V151.83M494.75 142.53V151.48M496.25 140.28V150.42M497 141.11V152.09M497.5 138.61V152.05M498 140.35V150.77M499.25 142.2V154.81M499.75 144.11V151.64M500 140.91V153.41M501 140.19V151.14M502.5 143.31V151.15M503.25 142.42V153.22M504.5 139.61V152.84M507 143.95V150.75M507.5 140.49V152.17M507.75 143.7V152.35M508.5 141.66V151.84M508.75 144.7V152.78M509.5 141.09V155.37M510.25 142.98V151.84M510.5 143.06V154.83M511 142.3V154.8M511.25 142.37V154.52M511.5 141.17V153.65M511.75 142.48V152.79M512 144.58V154.45M512.25 143.47V151.62M513.25 140.7V152.93M514 142.41V155.93" stroke="#000" stroke-width="0.7" fill="none" opacity="0.5"/>
<path d="M406.5 58.56V61.39M406.75 58.38V61.2M407.5 61.67V64.72M408 63.62V66.37M408.25 63.06V66.37M408.5 65.27V68.61M408.75 64.82V68.58M409 66.96V70.97M409.75 69.21V72.59M410.5 73.14V76.74M410.75 72.85V76.77M412.25 79.06V82.64M412.5 80.22V85.15M413.75 83.05V89.08M414.5 87.81V92.33M414.75 88.05V92.11M415.25 88.59V93.62M415.5 89.96V96.22M416.25 90.62V96.21M416.5 92.53V99.38M417.5 93.52V101.1M417.75 95.25V100.66M418.25 94.56V103.53M418.5 96.41V104.86M420 99.12V108.91M420.5 97.29V107.95M420.75 100.5V110.48M421 100.89V109.78M422 100.93V110.3M422.5 104.48V111.53M423 104.76V115.29M423.75 107.02V116.47M424 107.29V116.72M424.25 107.65V117.75M424.5 106.27V115.88M425 105.3V119.9M425.25 108.49V120.03M426.25 108.33V118.93M429.25 113.99V123.6M429.75 115.84V125.96M430.25 116.04V125.92M431.75 118.84V130.29M432.75 116.34V129.32M433.25 116.85V131.56M433.75 119.94V130.91M434 120.77V132.77M434.25 119.62V130.5M434.5 117.01V133.15M434.75 122.14V133.1M435 121.82V132.68M435.25 123.31V135.1M435.5 122.93V135.43M437.5 123.08V135.28M437.75 122.44V138.71M438.5 123.86V134.84M439.5 123.17V138.38M439.75 125.61V139.82M440.5 125.78V138.23M440.75 125.56V140.42M441 129.51V137.08M441.5 124.78V141.59M442.5 127V141.77M442.75 129.95V137.69M443 127.85V140.2M443.25 127.35V139.61M443.75 129.58V140.82M444.25 129.78V140.66M445.75 128.69V141.8M446.25 131.08V142.09M446.5 132.2V143.85M447 129.65V142.21M447.25 130.39V145.48M447.5 132.99V144.3M448 132.62V142.08M448.25 132.74V143.78M448.5 132.18V141.53M449.25 132.53V143.05M451 132.19V145.94M451.75 131.37V146.06M452.75 134.09V146.56M454 134.21V146.99M455.25 134.36V144.84M455.5 137.05V143.37M456 134.4V144.51M457.5 132.35V148.5M459.5 135.08V147.33M460 137.18V144.72M461.25 134.64V148.21M461.75 133.07V149.68M462 136.93V147.02M462.25 133.46V147.32M462.5 134.14V147.08M463 137.8V146.25M463.75 135.68V145.83M464.5 134.78V145.87M466.5 138.09V150.33M467.5 137.28V149.77M468.25 138.5V147.57M468.5 136.83V150.52M469.75 135.65V148.65M470 137.71V148.06M470.25 135.28V150.93M471 135.89V150.09M471.5 139.05V147.78M472 135.43V151.01M472.25 139.64V150.18M472.5 139.44V148.14M473.75 139.29V148.02M474.25 138.54V150.63M474.75 140.32V149.1M475 136.73V148.47M475.5 138.16V147.45M475.75 137.99V151.4M476 137.1V148.93M477 139.32V149.53M477.75 136.84V148.97M478.25 138.85V149.22M479 139.65V148.54M479.75 138.08V149.02M480 137.09V148.65M480.25 138.81V150.11M480.75 138.23V149.92M481.5 140.01V152.19M481.75 138.48V148.73M482 140.83V151.35M482.5 141.55V148.98M483.5 138.43V150.17M483.75 140.87V151.15M484.25 137.46V149.39M484.5 139.36V150.55M485 140.4V150.39M485.25 137.57V151.08M486.25 141.26V149.86M486.5 141.61V150.83M488 138.51V150.62M489.75 139.84V151.43M490.75 138.93V151.24M492.25 139.19V149.91M493.5 140.76V150.54M493.75 141.96V152.17M494.25 139.64V152.79M495 140.24V152.33M496 141.75V152.71M496.5 140.4V151.54M496.75 140.24V151.62M498.25 142.32V154.39M498.75 140.14V153.8M499 139.82V150.81M500.25 141.99V151.79M500.5 140.97V151.56M500.75 141.52V152.39M501.25 141.43V152.53M501.75 139.29V154.67M502 138.96V154.65M502.25 143.69V151.71M503 142.75V152.17M503.5 141.89V151.86M503.75 141.57V152.86M504.25 143.63V150.58M504.75 140.55V153.3M505.5 142.69V151.37M505.75 140.83V151.83M506 143.25V152.78M506.5 141.46V153.61M508 143.01V152.54M508.25 141.94V152.12M509 141.05V153.22M509.25 144.25V153.6M509.75 142.38V152.46M510.75 141.93V152.44M512.5 141.96V154.32M513.5 141.6V153.31M513.75 143.27V154.07M514.25 143.97V153.05M514.5 144.03V152.69M515 141.47V154.22" stroke="#000" stroke-width="0.7" fill="none" opacity="0.85"/>
<line x1="344" y1="25.2" x2="349.5" y2="25.4" stroke="#111" stroke-width="1.6"/>
<text x="456.3" y="13.1" font-size="10" text-anchor="middle" font-weight="normal" fill="#000">T+NO</text>
<text x="456.2" y="25.8" font-size="10" text-anchor="middle" font-weight="normal" fill="#000">+2.2 nM NoC1</text>
<text x="479.4" y="67.3" font-size="10" text-anchor="middle" font-weight="normal" fill="#000">T+NO</text>
<text x="479.3" y="79.3" font-size="10" text-anchor="middle" font-weight="normal" fill="#000">+22 nM NoC1</text>
<text x="347.2" y="85.4" font-size="10" text-anchor="start" font-weight="normal" fill="#000">T</text>
<text x="339.5" y="150" font-size="10" text-anchor="start" font-weight="normal" fill="#000">T+NO</text>
<line x1="352.1" y1="74.2" x2="358.83" y2="53.04" stroke="#000" stroke-width="1.2"/>
<polygon points="360.5,47.8 361.15,54.83 355.91,53.16" fill="#000"/>
<line x1="349.2" y1="134" x2="368.19" y2="49.96" stroke="#000" stroke-width="1.2"/>
<polygon points="369.4,44.6 370.65,51.55 365.29,50.33" fill="#000"/>
<line x1="432.7" y1="28.2" x2="380.76" y2="47.49" stroke="#000" stroke-width="1.2"/>
<polygon points="375.6,49.4 380.74,44.56 382.65,49.72" fill="#000"/>
<line x1="457.7" y1="82.7" x2="424.69" y2="96.13" stroke="#000" stroke-width="1.2"/>
<polygon points="419.6,98.2 424.58,93.2 426.66,98.3" fill="#000"/>
<text x="0.3" y="260.1" font-size="25.5" text-anchor="start" font-weight="bold" fill="#000">C</text>
<line x1="44.5" y1="268.7" x2="44.5" y2="429.3" stroke="#7a7a7a" stroke-width="1.3"/>
<line x1="43.9" y1="428.7" x2="227.6" y2="428.7" stroke="#7a7a7a" stroke-width="1.3"/>
<line x1="44.5" y1="269.3" x2="48" y2="269.3" stroke="#7a7a7a" stroke-width="1.1"/>
<text x="36.2" y="276.7" font-size="11.6" text-anchor="end" font-weight="normal" fill="#000">110</text>
<line x1="44.5" y1="301.18" x2="48" y2="301.18" stroke="#7a7a7a" stroke-width="1.1"/>
<text x="36.2" y="308.58" font-size="11.6" text-anchor="end" font-weight="normal" fill="#000">98</text>
<line x1="44.5" y1="333.06" x2="48" y2="333.06" stroke="#7a7a7a" stroke-width="1.1"/>
<text x="36.2" y="340.46" font-size="11.6" text-anchor="end" font-weight="normal" fill="#000">86</text>
<line x1="44.5" y1="364.94" x2="48" y2="364.94" stroke="#7a7a7a" stroke-width="1.1"/>
<text x="36.2" y="372.34" font-size="11.6" text-anchor="end" font-weight="normal" fill="#000">74</text>
<line x1="44.5" y1="396.82" x2="48" y2="396.82" stroke="#7a7a7a" stroke-width="1.1"/>
<text x="36.2" y="404.22" font-size="11.6" text-anchor="end" font-weight="normal" fill="#000">62</text>
<text x="36.2" y="436.1" font-size="11.6" text-anchor="end" font-weight="normal" fill="#000">50</text>
<line x1="52.9" y1="425.2" x2="52.9" y2="428.7" stroke="#7a7a7a" stroke-width="1.1"/>
<text x="52.9" y="446" font-size="11.6" text-anchor="middle" font-weight="normal" fill="#000">0</text>
<line x1="86.1" y1="425.2" x2="86.1" y2="428.7" stroke="#7a7a7a" stroke-width="1.1"/>
<text x="86.1" y="446" font-size="11.6" text-anchor="middle" font-weight="normal" fill="#000">1</text>
<line x1="119.3" y1="425.2" x2="119.3" y2="428.7" stroke="#7a7a7a" stroke-width="1.1"/>
<text x="119.3" y="446" font-size="11.6" text-anchor="middle" font-weight="normal" fill="#000">2</text>
<line x1="152.5" y1="425.2" x2="152.5" y2="428.7" stroke="#7a7a7a" stroke-width="1.1"/>
<text x="152.5" y="446" font-size="11.6" text-anchor="middle" font-weight="normal" fill="#000">3</text>
<line x1="185.7" y1="425.2" x2="185.7" y2="428.7" stroke="#7a7a7a" stroke-width="1.1"/>
<text x="185.7" y="446" font-size="11.6" text-anchor="middle" font-weight="normal" fill="#000">4</text>
<line x1="218.9" y1="425.2" x2="218.9" y2="428.7" stroke="#7a7a7a" stroke-width="1.1"/>
<text x="218.9" y="446" font-size="11.6" text-anchor="middle" font-weight="normal" fill="#000">5</text>
<text x="141" y="460.4" font-size="11.4" text-anchor="middle" font-weight="normal" fill="#000">time (min)</text>
<text x="14.2" y="353.6" font-size="11.4" text-anchor="middle" font-weight="normal" fill="#000" transform="rotate(-90 14.2 353.6)">absorbance (% control)</text>
<polyline points="52.9,295.87 69.5,299.58 86.1,301.98 102.7,303.57 119.3,306.23 135.9,310.74 152.5,318.98 169.1,328.81 185.7,341.56 202.3,354.05 218.9,367.6" fill="none" stroke="#777" stroke-width="0.9" stroke-dasharray="3,2.2" stroke-linejoin="round"/>
<polyline points="52.9,295.87 69.5,304.37 86.1,306.49 102.7,311.54 119.3,318.18 135.9,331.46 152.5,340.76 169.1,354.84 185.7,371.05 202.3,380.61 218.9,392.04" fill="none" stroke="#999" stroke-width="0.9" stroke-linejoin="round"/>
<polyline points="52.9,295.87 69.5,306.23 86.1,309.15 102.7,315.52 119.3,324.56 135.9,337.84 152.5,352.45 169.1,369.19 185.7,379.02 202.3,390.71 218.9,403.2" fill="none" stroke="#555" stroke-width="0.9" stroke-dasharray="4,2.5" stroke-linejoin="round"/>
<polyline points="52.9,295.87 69.5,295.87 86.1,297.19 102.7,300.38 119.3,317.92 135.9,337.58 152.5,371.05 169.1,390.44 185.7,406.92 202.3,410.1 218.9,412.76" fill="none" stroke="#555" stroke-width="1" stroke-linejoin="round"/>
<polygon points="50.3,297.94 55.5,297.94 52.9,293.53" fill="#fff" stroke="#666" stroke-width="0.9"/>
<polygon points="66.9,301.66 72.1,301.66 69.5,297.24" fill="#fff" stroke="#666" stroke-width="0.9"/>
<polygon points="83.5,304.06 88.7,304.06 86.1,299.64" fill="#fff" stroke="#666" stroke-width="0.9"/>
<polygon points="100.1,305.65 105.3,305.65 102.7,301.23" fill="#fff" stroke="#666" stroke-width="0.9"/>
<polygon points="116.7,308.31 121.9,308.31 119.3,303.89" fill="#fff" stroke="#666" stroke-width="0.9"/>
<polygon points="133.3,312.82 138.5,312.82 135.9,308.4" fill="#fff" stroke="#666" stroke-width="0.9"/>
<polygon points="149.9,321.06 155.1,321.06 152.5,316.64" fill="#fff" stroke="#666" stroke-width="0.9"/>
<polygon points="166.5,330.89 171.7,330.89 169.1,326.47" fill="#fff" stroke="#666" stroke-width="0.9"/>
<polygon points="183.1,343.64 188.3,343.64 185.7,339.22" fill="#fff" stroke="#666" stroke-width="0.9"/>
<polygon points="199.7,356.13 204.9,356.13 202.3,351.71" fill="#fff" stroke="#666" stroke-width="0.9"/>
<polygon points="216.3,369.68 221.5,369.68 218.9,365.26" fill="#fff" stroke="#666" stroke-width="0.9"/>
<circle cx="52.9" cy="295.87" r="2.5" fill="#fff" stroke="#444" stroke-width="0.9"/>
<circle cx="69.5" cy="306.23" r="2.5" fill="#fff" stroke="#444" stroke-width="0.9"/>
<circle cx="86.1" cy="309.15" r="2.5" fill="#fff" stroke="#444" stroke-width="0.9"/>
<circle cx="102.7" cy="315.52" r="2.5" fill="#fff" stroke="#444" stroke-width="0.9"/>
<circle cx="119.3" cy="324.56" r="2.5" fill="#fff" stroke="#444" stroke-width="0.9"/>
<circle cx="135.9" cy="337.84" r="2.5" fill="#fff" stroke="#444" stroke-width="0.9"/>
<circle cx="152.5" cy="352.45" r="2.5" fill="#fff" stroke="#444" stroke-width="0.9"/>
<circle cx="169.1" cy="369.19" r="2.5" fill="#fff" stroke="#444" stroke-width="0.9"/>
<circle cx="185.7" cy="379.02" r="2.5" fill="#fff" stroke="#444" stroke-width="0.9"/>
<circle cx="202.3" cy="390.71" r="2.5" fill="#fff" stroke="#444" stroke-width="0.9"/>
<circle cx="218.9" cy="403.2" r="2.5" fill="#fff" stroke="#444" stroke-width="0.9"/>
<line x1="50.5" y1="295.87" x2="55.3" y2="295.87" stroke="#000" stroke-width="1.6"/>
<line x1="52.9" y1="293.47" x2="52.9" y2="298.26" stroke="#000" stroke-width="1.6"/>
<line x1="67.1" y1="304.37" x2="71.9" y2="304.37" stroke="#000" stroke-width="1.6"/>
<line x1="69.5" y1="301.97" x2="69.5" y2="306.77" stroke="#000" stroke-width="1.6"/>
<line x1="83.7" y1="306.49" x2="88.5" y2="306.49" stroke="#000" stroke-width="1.6"/>
<line x1="86.1" y1="304.09" x2="86.1" y2="308.89" stroke="#000" stroke-width="1.6"/>
<line x1="100.3" y1="311.54" x2="105.1" y2="311.54" stroke="#000" stroke-width="1.6"/>
<line x1="102.7" y1="309.14" x2="102.7" y2="313.94" stroke="#000" stroke-width="1.6"/>
<line x1="116.9" y1="318.18" x2="121.7" y2="318.18" stroke="#000" stroke-width="1.6"/>
<line x1="119.3" y1="315.78" x2="119.3" y2="320.58" stroke="#000" stroke-width="1.6"/>
<line x1="133.5" y1="331.46" x2="138.3" y2="331.46" stroke="#000" stroke-width="1.6"/>
<line x1="135.9" y1="329.06" x2="135.9" y2="333.86" stroke="#000" stroke-width="1.6"/>
<line x1="150.1" y1="340.76" x2="154.9" y2="340.76" stroke="#000" stroke-width="1.6"/>
<line x1="152.5" y1="338.36" x2="152.5" y2="343.16" stroke="#000" stroke-width="1.6"/>
<line x1="166.7" y1="354.84" x2="171.5" y2="354.84" stroke="#000" stroke-width="1.6"/>
<line x1="169.1" y1="352.44" x2="169.1" y2="357.24" stroke="#000" stroke-width="1.6"/>
<line x1="183.3" y1="371.05" x2="188.1" y2="371.05" stroke="#000" stroke-width="1.6"/>
<line x1="185.7" y1="368.65" x2="185.7" y2="373.45" stroke="#000" stroke-width="1.6"/>
<line x1="199.9" y1="380.61" x2="204.7" y2="380.61" stroke="#000" stroke-width="1.6"/>
<line x1="202.3" y1="378.21" x2="202.3" y2="383.01" stroke="#000" stroke-width="1.6"/>
<line x1="216.5" y1="392.04" x2="221.3" y2="392.04" stroke="#000" stroke-width="1.6"/>
<line x1="218.9" y1="389.64" x2="218.9" y2="394.44" stroke="#000" stroke-width="1.6"/>
<line x1="50.6" y1="295.87" x2="55.2" y2="295.87" stroke="#666" stroke-width="0.9"/>
<line x1="52.9" y1="293.56" x2="52.9" y2="298.17" stroke="#666" stroke-width="0.9"/>
<line x1="67.2" y1="295.87" x2="71.8" y2="295.87" stroke="#666" stroke-width="0.9"/>
<line x1="69.5" y1="293.56" x2="69.5" y2="298.17" stroke="#666" stroke-width="0.9"/>
<line x1="83.8" y1="297.19" x2="88.4" y2="297.19" stroke="#666" stroke-width="0.9"/>
<line x1="86.1" y1="294.89" x2="86.1" y2="299.49" stroke="#666" stroke-width="0.9"/>
<line x1="100.4" y1="300.38" x2="105" y2="300.38" stroke="#666" stroke-width="0.9"/>
<line x1="102.7" y1="298.08" x2="102.7" y2="302.68" stroke="#666" stroke-width="0.9"/>
<line x1="117" y1="317.92" x2="121.6" y2="317.92" stroke="#666" stroke-width="0.9"/>
<line x1="119.3" y1="315.62" x2="119.3" y2="320.22" stroke="#666" stroke-width="0.9"/>
<line x1="133.6" y1="337.58" x2="138.2" y2="337.58" stroke="#666" stroke-width="0.9"/>
<line x1="135.9" y1="335.28" x2="135.9" y2="339.88" stroke="#666" stroke-width="0.9"/>
<line x1="150.2" y1="371.05" x2="154.8" y2="371.05" stroke="#666" stroke-width="0.9"/>
<line x1="152.5" y1="368.75" x2="152.5" y2="373.35" stroke="#666" stroke-width="0.9"/>
<line x1="166.8" y1="390.44" x2="171.4" y2="390.44" stroke="#666" stroke-width="0.9"/>
<line x1="169.1" y1="388.14" x2="169.1" y2="392.74" stroke="#666" stroke-width="0.9"/>
<line x1="183.4" y1="406.92" x2="188" y2="406.92" stroke="#666" stroke-width="0.9"/>
<line x1="185.7" y1="404.62" x2="185.7" y2="409.22" stroke="#666" stroke-width="0.9"/>
<line x1="200" y1="410.1" x2="204.6" y2="410.1" stroke="#666" stroke-width="0.9"/>
<line x1="202.3" y1="407.8" x2="202.3" y2="412.4" stroke="#666" stroke-width="0.9"/>
<line x1="216.6" y1="412.76" x2="221.2" y2="412.76" stroke="#666" stroke-width="0.9"/>
<line x1="218.9" y1="410.46" x2="218.9" y2="415.06" stroke="#666" stroke-width="0.9"/>
<rect x="50.8" y="294" width="4.3" height="4.2" fill="#000"/>
<line x1="138.8" y1="262.5" x2="144.8" y2="262.5" stroke="#666" stroke-width="1"/>
<line x1="153.8" y1="262.5" x2="160.1" y2="262.5" stroke="#666" stroke-width="1"/>
<line x1="147.7" y1="262.5" x2="151.7" y2="262.5" stroke="#777" stroke-width="0.9"/>
<line x1="149.7" y1="260.5" x2="149.7" y2="264.5" stroke="#777" stroke-width="0.9"/>
<line x1="138.8" y1="274.3" x2="160.1" y2="274.3" stroke="#777" stroke-width="0.9" stroke-dasharray="2,1.6"/>
<rect x="146" y="271" width="7.5" height="7" fill="#fff"/>
<polygon points="147.3,276.22 152.1,276.22 149.7,272.14" fill="#fff" stroke="#666" stroke-width="0.9"/>
<line x1="138.8" y1="286.5" x2="160.1" y2="286.5" stroke="#666" stroke-width="0.9" stroke-dasharray="2,1.6"/>
<rect x="146" y="283" width="7.5" height="7" fill="#fff"/>
<circle cx="149.7" cy="286.5" r="2.3" fill="#fff" stroke="#555" stroke-width="0.9"/>
<line x1="138.8" y1="298.6" x2="145" y2="298.6" stroke="#999" stroke-width="1"/>
<line x1="154" y1="298.6" x2="160.1" y2="298.6" stroke="#999" stroke-width="1"/>
<line x1="147.4" y1="298.6" x2="152" y2="298.6" stroke="#000" stroke-width="1.6"/>
<line x1="149.7" y1="296.3" x2="149.7" y2="300.9" stroke="#000" stroke-width="1.6"/>
<text x="167" y="263.7" font-size="10.5" text-anchor="start" font-weight="normal" fill="#000">control</text>
<text x="167" y="277.4" font-size="10.5" text-anchor="start" font-weight="normal" fill="#000">NO</text>
<text x="167" y="290.7" font-size="10.5" text-anchor="start" font-weight="normal" fill="#000">NO + 3TSR</text>
<text x="167" y="304.2" font-size="10.5" text-anchor="start" font-weight="normal" fill="#000">NO +E123CaG1</text>
<text x="267.5" y="259.7" font-size="25.5" text-anchor="start" font-weight="bold" fill="#000">D</text>
<line x1="323.4" y1="258" x2="323.4" y2="426.8" stroke="#7a7a7a" stroke-width="1.3"/>
<line x1="322.8" y1="426.2" x2="520" y2="426.2" stroke="#7a7a7a" stroke-width="1.3"/>
<line x1="323.4" y1="258.6" x2="327.8" y2="258.6" stroke="#7a7a7a" stroke-width="1.1"/>
<text x="312.9" y="266" font-size="11.6" text-anchor="end" font-weight="normal" fill="#000">125</text>
<line x1="323.4" y1="300.5" x2="327.8" y2="300.5" stroke="#7a7a7a" stroke-width="1.1"/>
<text x="312.9" y="307.9" font-size="11.6" text-anchor="end" font-weight="normal" fill="#000">100</text>
<line x1="323.4" y1="342.4" x2="327.8" y2="342.4" stroke="#7a7a7a" stroke-width="1.1"/>
<text x="312.9" y="349.8" font-size="11.6" text-anchor="end" font-weight="normal" fill="#000">75</text>
<line x1="323.4" y1="384.3" x2="327.8" y2="384.3" stroke="#7a7a7a" stroke-width="1.1"/>
<text x="312.9" y="391.7" font-size="11.6" text-anchor="end" font-weight="normal" fill="#000">50</text>
<text x="312.9" y="433.6" font-size="11.6" text-anchor="end" font-weight="normal" fill="#000">25</text>
<line x1="340.2" y1="422.2" x2="340.2" y2="426.2" stroke="#7a7a7a" stroke-width="1.1"/>
<text x="346" y="432.3" font-size="11.6" text-anchor="end" font-weight="normal" fill="#000" transform="rotate(-90 346 432.3)">0</text>
<line x1="372.8" y1="422.2" x2="372.8" y2="426.2" stroke="#7a7a7a" stroke-width="1.1"/>
<text x="378.6" y="432.3" font-size="11.6" text-anchor="end" font-weight="normal" fill="#000" transform="rotate(-90 378.6 432.3)">0.0022</text>
<line x1="405.4" y1="422.2" x2="405.4" y2="426.2" stroke="#7a7a7a" stroke-width="1.1"/>
<text x="411.2" y="432.3" font-size="11.6" text-anchor="end" font-weight="normal" fill="#000" transform="rotate(-90 411.2 432.3)">0.022</text>
<line x1="438" y1="422.2" x2="438" y2="426.2" stroke="#7a7a7a" stroke-width="1.1"/>
<text x="443.8" y="432.3" font-size="11.6" text-anchor="end" font-weight="normal" fill="#000" transform="rotate(-90 443.8 432.3)">0.22</text>
<line x1="470.6" y1="422.2" x2="470.6" y2="426.2" stroke="#7a7a7a" stroke-width="1.1"/>
<text x="476.4" y="432.3" font-size="11.6" text-anchor="end" font-weight="normal" fill="#000" transform="rotate(-90 476.4 432.3)">2.2</text>
<line x1="503.2" y1="422.2" x2="503.2" y2="426.2" stroke="#7a7a7a" stroke-width="1.1"/>
<text x="509" y="432.3" font-size="11.6" text-anchor="end" font-weight="normal" fill="#000" transform="rotate(-90 509 432.3)">22</text>
<text x="422.8" y="478" font-size="11.2" text-anchor="middle" font-weight="normal" fill="#000">nM</text>
<text x="289.1" y="335.9" font-size="11.4" text-anchor="middle" font-weight="normal" fill="#000" transform="rotate(-90 289.1 335.9)">cGMP (% control)</text>
<line x1="340.2" y1="293.8" x2="340.2" y2="307.2" stroke="#555" stroke-width="0.9"/>
<line x1="337.9" y1="293.8" x2="342.5" y2="293.8" stroke="#555" stroke-width="0.9"/>
<line x1="337.9" y1="307.2" x2="342.5" y2="307.2" stroke="#555" stroke-width="0.9"/>
<line x1="372.8" y1="292.12" x2="372.8" y2="308.88" stroke="#555" stroke-width="0.9"/>
<line x1="370.5" y1="292.12" x2="375.1" y2="292.12" stroke="#555" stroke-width="0.9"/>
<line x1="370.5" y1="308.88" x2="375.1" y2="308.88" stroke="#555" stroke-width="0.9"/>
<line x1="405.4" y1="318.94" x2="405.4" y2="332.34" stroke="#555" stroke-width="0.9"/>
<line x1="403.1" y1="318.94" x2="407.7" y2="318.94" stroke="#555" stroke-width="0.9"/>
<line x1="403.1" y1="332.34" x2="407.7" y2="332.34" stroke="#555" stroke-width="0.9"/>
<line x1="438" y1="357.82" x2="438" y2="367.88" stroke="#555" stroke-width="0.9"/>
<line x1="435.7" y1="357.82" x2="440.3" y2="357.82" stroke="#555" stroke-width="0.9"/>
<line x1="435.7" y1="367.88" x2="440.3" y2="367.88" stroke="#555" stroke-width="0.9"/>
<line x1="470.6" y1="365.53" x2="470.6" y2="380.61" stroke="#555" stroke-width="0.9"/>
<line x1="468.3" y1="365.53" x2="472.9" y2="365.53" stroke="#555" stroke-width="0.9"/>
<line x1="468.3" y1="380.61" x2="472.9" y2="380.61" stroke="#555" stroke-width="0.9"/>
<line x1="503.2" y1="380.95" x2="503.2" y2="397.71" stroke="#555" stroke-width="0.9"/>
<line x1="500.9" y1="380.95" x2="505.5" y2="380.95" stroke="#555" stroke-width="0.9"/>
<line x1="500.9" y1="397.71" x2="505.5" y2="397.71" stroke="#555" stroke-width="0.9"/>
<line x1="340.2" y1="293.8" x2="340.2" y2="307.2" stroke="#555" stroke-width="0.9"/>
<line x1="337.9" y1="293.8" x2="342.5" y2="293.8" stroke="#555" stroke-width="0.9"/>
<line x1="337.9" y1="307.2" x2="342.5" y2="307.2" stroke="#555" stroke-width="0.9"/>
<line x1="372.8" y1="309.72" x2="372.8" y2="319.77" stroke="#555" stroke-width="0.9"/>
<line x1="370.5" y1="309.72" x2="375.1" y2="309.72" stroke="#555" stroke-width="0.9"/>
<line x1="370.5" y1="319.77" x2="375.1" y2="319.77" stroke="#555" stroke-width="0.9"/>
<line x1="405.4" y1="321.62" x2="405.4" y2="331.67" stroke="#555" stroke-width="0.9"/>
<line x1="403.1" y1="321.62" x2="407.7" y2="321.62" stroke="#555" stroke-width="0.9"/>
<line x1="403.1" y1="331.67" x2="407.7" y2="331.67" stroke="#555" stroke-width="0.9"/>
<line x1="438" y1="387.99" x2="438" y2="398.04" stroke="#555" stroke-width="0.9"/>
<line x1="435.7" y1="387.99" x2="440.3" y2="387.99" stroke="#555" stroke-width="0.9"/>
<line x1="435.7" y1="398.04" x2="440.3" y2="398.04" stroke="#555" stroke-width="0.9"/>
<line x1="470.6" y1="387.48" x2="470.6" y2="397.54" stroke="#555" stroke-width="0.9"/>
<line x1="468.3" y1="387.48" x2="472.9" y2="387.48" stroke="#555" stroke-width="0.9"/>
<line x1="468.3" y1="397.54" x2="472.9" y2="397.54" stroke="#555" stroke-width="0.9"/>
<line x1="503.2" y1="397.04" x2="503.2" y2="407.09" stroke="#555" stroke-width="0.9"/>
<line x1="500.9" y1="397.04" x2="505.5" y2="397.04" stroke="#555" stroke-width="0.9"/>
<line x1="500.9" y1="407.09" x2="505.5" y2="407.09" stroke="#555" stroke-width="0.9"/>
<line x1="340.2" y1="293.8" x2="340.2" y2="307.2" stroke="#555" stroke-width="0.9"/>
<line x1="337.9" y1="293.8" x2="342.5" y2="293.8" stroke="#555" stroke-width="0.9"/>
<line x1="337.9" y1="307.2" x2="342.5" y2="307.2" stroke="#555" stroke-width="0.9"/>
<line x1="372.8" y1="310.72" x2="372.8" y2="320.78" stroke="#555" stroke-width="0.9"/>
<line x1="370.5" y1="310.72" x2="375.1" y2="310.72" stroke="#555" stroke-width="0.9"/>
<line x1="370.5" y1="320.78" x2="375.1" y2="320.78" stroke="#555" stroke-width="0.9"/>
<line x1="405.4" y1="313.57" x2="405.4" y2="323.63" stroke="#555" stroke-width="0.9"/>
<line x1="403.1" y1="313.57" x2="407.7" y2="313.57" stroke="#555" stroke-width="0.9"/>
<line x1="403.1" y1="323.63" x2="407.7" y2="323.63" stroke="#555" stroke-width="0.9"/>
<line x1="438" y1="385.31" x2="438" y2="395.36" stroke="#555" stroke-width="0.9"/>
<line x1="435.7" y1="385.31" x2="440.3" y2="385.31" stroke="#555" stroke-width="0.9"/>
<line x1="435.7" y1="395.36" x2="440.3" y2="395.36" stroke="#555" stroke-width="0.9"/>
<line x1="470.6" y1="384.64" x2="470.6" y2="394.69" stroke="#555" stroke-width="0.9"/>
<line x1="468.3" y1="384.64" x2="472.9" y2="384.64" stroke="#555" stroke-width="0.9"/>
<line x1="468.3" y1="394.69" x2="472.9" y2="394.69" stroke="#555" stroke-width="0.9"/>
<line x1="503.2" y1="402.57" x2="503.2" y2="409.27" stroke="#555" stroke-width="0.9"/>
<line x1="500.9" y1="402.57" x2="505.5" y2="402.57" stroke="#555" stroke-width="0.9"/>
<line x1="500.9" y1="409.27" x2="505.5" y2="409.27" stroke="#555" stroke-width="0.9"/>
<line x1="340.2" y1="293.8" x2="340.2" y2="307.2" stroke="#555" stroke-width="0.9"/>
<line x1="337.9" y1="293.8" x2="342.5" y2="293.8" stroke="#555" stroke-width="0.9"/>
<line x1="337.9" y1="307.2" x2="342.5" y2="307.2" stroke="#555" stroke-width="0.9"/>
<line x1="372.8" y1="288.43" x2="372.8" y2="303.52" stroke="#555" stroke-width="0.9"/>
<line x1="370.5" y1="288.43" x2="375.1" y2="288.43" stroke="#555" stroke-width="0.9"/>
<line x1="370.5" y1="303.52" x2="375.1" y2="303.52" stroke="#555" stroke-width="0.9"/>
<line x1="405.4" y1="294.13" x2="405.4" y2="319.27" stroke="#555" stroke-width="0.9"/>
<line x1="403.1" y1="294.13" x2="407.7" y2="294.13" stroke="#555" stroke-width="0.9"/>
<line x1="403.1" y1="319.27" x2="407.7" y2="319.27" stroke="#555" stroke-width="0.9"/>
<line x1="438" y1="302.18" x2="438" y2="306.2" stroke="#555" stroke-width="0.9"/>
<line x1="435.7" y1="302.18" x2="440.3" y2="302.18" stroke="#555" stroke-width="0.9"/>
<line x1="435.7" y1="306.2" x2="440.3" y2="306.2" stroke="#555" stroke-width="0.9"/>
<line x1="470.6" y1="287.59" x2="470.6" y2="295.64" stroke="#555" stroke-width="0.9"/>
<line x1="468.3" y1="287.59" x2="472.9" y2="287.59" stroke="#555" stroke-width="0.9"/>
<line x1="468.3" y1="295.64" x2="472.9" y2="295.64" stroke="#555" stroke-width="0.9"/>
<line x1="503.2" y1="298.66" x2="503.2" y2="314.41" stroke="#555" stroke-width="0.9"/>
<line x1="500.9" y1="298.66" x2="505.5" y2="298.66" stroke="#555" stroke-width="0.9"/>
<line x1="500.9" y1="314.41" x2="505.5" y2="314.41" stroke="#555" stroke-width="0.9"/>
<polyline points="340.2,300.5 372.8,295.97 405.4,306.7 438,304.19 470.6,291.62 503.2,306.53" fill="none" stroke="#777" stroke-width="1" stroke-dasharray="4,2.5" stroke-linejoin="round"/>
<polyline points="340.2,300.5 372.8,314.75 405.4,326.65 438,393.02 470.6,392.51 503.2,402.07" fill="none" stroke="#666" stroke-width="0.9" stroke-dasharray="3,2" stroke-linejoin="round"/>
<polyline points="340.2,300.5 372.8,315.75 405.4,318.6 438,390.33 470.6,389.66 503.2,405.92" fill="none" stroke="#666" stroke-width="0.9" stroke-dasharray="6,2" stroke-linejoin="round"/>
<polyline points="340.2,300.5 372.8,300.5 405.4,325.64 438,362.85 470.6,373.07 503.2,389.33" fill="none" stroke="#555" stroke-width="1" stroke-linejoin="round"/>
<polygon points="337.5,298.34 342.9,298.34 340.2,302.93" fill="#fff" stroke="#555" stroke-width="0.9"/>
<polygon points="370.1,293.81 375.5,293.81 372.8,298.4" fill="#fff" stroke="#555" stroke-width="0.9"/>
<polygon points="402.7,304.54 408.1,304.54 405.4,309.13" fill="#fff" stroke="#555" stroke-width="0.9"/>
<polygon points="435.3,302.03 440.7,302.03 438,306.62" fill="#fff" stroke="#555" stroke-width="0.9"/>
<polygon points="467.9,289.46 473.3,289.46 470.6,294.05" fill="#fff" stroke="#555" stroke-width="0.9"/>
<polygon points="500.5,304.37 505.9,304.37 503.2,308.96" fill="#fff" stroke="#555" stroke-width="0.9"/>
<circle cx="340.2" cy="300.5" r="2.6" fill="#fff" stroke="#444" stroke-width="0.9"/>
<circle cx="372.8" cy="314.75" r="2.6" fill="#fff" stroke="#444" stroke-width="0.9"/>
<circle cx="405.4" cy="326.65" r="2.6" fill="#fff" stroke="#444" stroke-width="0.9"/>
<circle cx="438" cy="393.02" r="2.6" fill="#fff" stroke="#444" stroke-width="0.9"/>
<circle cx="470.6" cy="392.51" r="2.6" fill="#fff" stroke="#444" stroke-width="0.9"/>
<circle cx="503.2" cy="402.07" r="2.6" fill="#fff" stroke="#444" stroke-width="0.9"/>
<polygon points="337.5,302.66 342.9,302.66 340.2,298.07" fill="#000" stroke="#000" stroke-width="0.9"/>
<polygon points="370.1,317.91 375.5,317.91 372.8,313.32" fill="#000" stroke="#000" stroke-width="0.9"/>
<polygon points="402.7,320.76 408.1,320.76 405.4,316.17" fill="#000" stroke="#000" stroke-width="0.9"/>
<polygon points="435.3,392.49 440.7,392.49 438,387.9" fill="#000" stroke="#000" stroke-width="0.9"/>
<polygon points="467.9,391.82 473.3,391.82 470.6,387.23" fill="#000" stroke="#000" stroke-width="0.9"/>
<polygon points="500.5,408.08 505.9,408.08 503.2,403.49" fill="#000" stroke="#000" stroke-width="0.9"/>
<line x1="338" y1="300.5" x2="342.4" y2="300.5" stroke="#666" stroke-width="0.9"/>
<line x1="340.2" y1="298.3" x2="340.2" y2="302.7" stroke="#666" stroke-width="0.9"/>
<line x1="370.6" y1="300.5" x2="375" y2="300.5" stroke="#666" stroke-width="0.9"/>
<line x1="372.8" y1="298.3" x2="372.8" y2="302.7" stroke="#666" stroke-width="0.9"/>
<line x1="403.2" y1="325.64" x2="407.6" y2="325.64" stroke="#666" stroke-width="0.9"/>
<line x1="405.4" y1="323.44" x2="405.4" y2="327.84" stroke="#666" stroke-width="0.9"/>
<line x1="435.8" y1="362.85" x2="440.2" y2="362.85" stroke="#666" stroke-width="0.9"/>
<line x1="438" y1="360.65" x2="438" y2="365.05" stroke="#666" stroke-width="0.9"/>
<line x1="468.4" y1="373.07" x2="472.8" y2="373.07" stroke="#666" stroke-width="0.9"/>
<line x1="470.6" y1="370.87" x2="470.6" y2="375.27" stroke="#666" stroke-width="0.9"/>
<line x1="501" y1="389.33" x2="505.4" y2="389.33" stroke="#666" stroke-width="0.9"/>
<line x1="503.2" y1="387.13" x2="503.2" y2="391.53" stroke="#666" stroke-width="0.9"/>
<rect x="337.8" y="298.6" width="5" height="5" fill="#000"/>
<line x1="433.1" y1="242.6" x2="438.9" y2="242.6" stroke="#777" stroke-width="1"/>
<line x1="449.9" y1="242.6" x2="455.6" y2="242.6" stroke="#777" stroke-width="1"/>
<line x1="442.4" y1="242.6" x2="446.4" y2="242.6" stroke="#777" stroke-width="0.9"/>
<line x1="444.4" y1="240.6" x2="444.4" y2="244.6" stroke="#777" stroke-width="0.9"/>
<line x1="433.1" y1="254.7" x2="455.6" y2="254.7" stroke="#777" stroke-width="0.9" stroke-dasharray="2.2,1.6"/>
<rect x="440.5" y="251" width="8" height="7.5" fill="#fff"/>
<circle cx="444.4" cy="254.7" r="2.3" fill="#fff" stroke="#555" stroke-width="0.9"/>
<line x1="433.1" y1="266.9" x2="439.5" y2="266.9" stroke="#666" stroke-width="1.1"/>
<line x1="449.5" y1="266.9" x2="455.6" y2="266.9" stroke="#666" stroke-width="1.1"/>
<polygon points="441.9,268.9 446.9,268.9 444.4,264.65" fill="#000" stroke="#000" stroke-width="0.9"/>
<line x1="433.1" y1="278.9" x2="438.5" y2="278.9" stroke="#777" stroke-width="1.1"/>
<line x1="450.3" y1="278.9" x2="455.6" y2="278.9" stroke="#777" stroke-width="1.1"/>
<polygon points="441.9,276.9 446.9,276.9 444.4,281.15" fill="#fff" stroke="#555" stroke-width="0.9"/>
<text x="463.7" y="246.5" font-size="10.45" text-anchor="start" font-weight="normal" fill="#000">TSP1</text>
<text x="463.7" y="258.5" font-size="10.45" text-anchor="start" font-weight="normal" fill="#000">3TSR</text>
<text x="463.7" y="270.2" font-size="10.45" text-anchor="start" font-weight="normal" fill="#000">E123CaG1</text>
<text x="463.7" y="282.2" font-size="10.45" text-anchor="start" font-weight="normal" fill="#000">NoC1</text>
</svg>
</body></html>
